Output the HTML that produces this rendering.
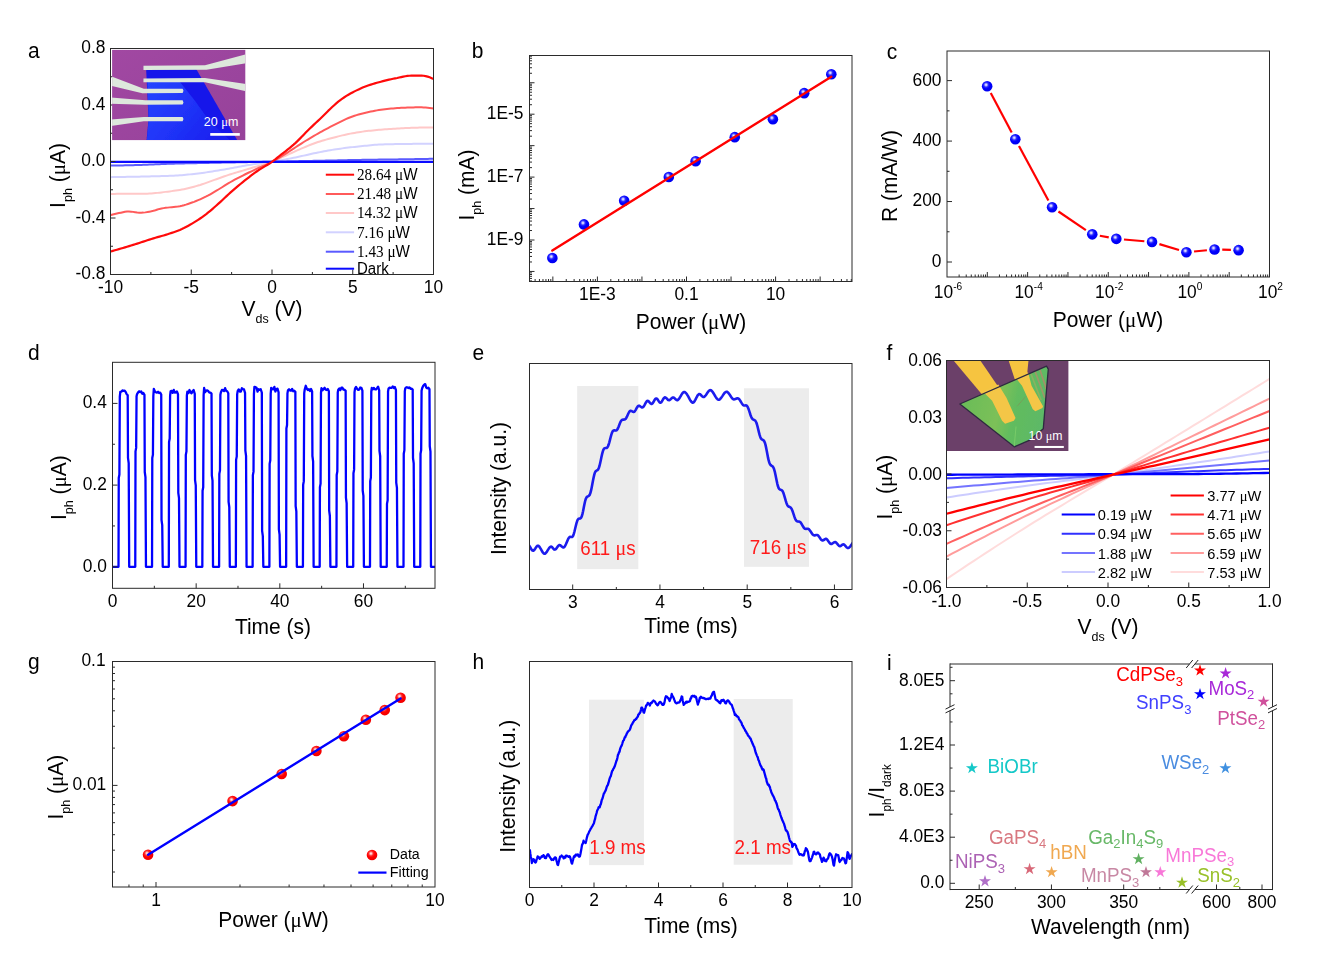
<!DOCTYPE html>
<html lang="en"><head><meta charset="utf-8"><title>Figure</title>
<style>
html,body{margin:0;padding:0;background:#fff;}
body{width:1339px;height:961px;overflow:hidden;}
svg{display:block;font-family:'Liberation Sans', Arial, sans-serif;}
</style></head><body>
<svg width="1339" height="961" viewBox="0 0 1339 961">
<defs>
<radialGradient id="gb" cx="0.4" cy="0.36" r="0.62" fx="0.4" fy="0.36"><stop offset="0" stop-color="#f0f0ff"/><stop offset="0.12" stop-color="#c8c8ff"/><stop offset="0.36" stop-color="#2a2aff"/><stop offset="0.6" stop-color="#0000ff"/><stop offset="1" stop-color="#0000f0"/></radialGradient>
<radialGradient id="gr" cx="0.4" cy="0.36" r="0.62" fx="0.4" fy="0.36"><stop offset="0" stop-color="#fff0f0"/><stop offset="0.12" stop-color="#ffc8c8"/><stop offset="0.36" stop-color="#ff2a2a"/><stop offset="0.6" stop-color="#ff0000"/><stop offset="1" stop-color="#f00000"/></radialGradient>
<filter id="blur1" x="-0.05" y="-0.05" width="1.1" height="1.1"><feGaussianBlur stdDeviation="0.45"/></filter>
<filter id="blur2" x="-0.05" y="-0.05" width="1.1" height="1.1"><feGaussianBlur stdDeviation="0.7"/></filter>
</defs>
<rect width="1339" height="961" fill="#fff"/>
<g style="will-change:transform">
<g id="pa">
<clipPath id="ca"><rect x="110.5" y="48.5" width="323" height="226"/></clipPath>
<text font-size="21" text-anchor="start" fill="#000" transform="translate(28 57.5) scale(1 1.04)" ><tspan>a</tspan></text>
<g clip-path="url(#ca)">
<path d="M110.78 177.14 L112.81 177.11 L114.84 177.07 L116.87 177.04 L118.9 177 L120.93 176.97 L122.96 176.93 L124.99 176.89 L127.03 176.86 L129.06 176.82 L131.09 176.78 L133.12 176.74 L135.15 176.71 L137.18 176.67 L139.21 176.63 L141.24 176.59 L143.27 176.55 L145.31 176.51 L147.34 176.47 L149.37 176.42 L151.4 176.37 L153.43 176.32 L155.46 176.27 L157.49 176.22 L159.52 176.16 L161.55 176.1 L163.59 176.04 L165.62 175.98 L167.65 175.9 L169.68 175.83 L171.71 175.74 L173.74 175.65 L175.77 175.56 L177.8 175.44 L179.84 175.3 L181.87 175.15 L183.9 174.97 L185.93 174.79 L187.96 174.58 L189.99 174.37 L192.02 174.15 L194.05 173.93 L196.08 173.69 L198.12 173.46 L200.15 173.22 L202.18 172.96 L204.21 172.68 L206.24 172.38 L208.27 172.08 L210.3 171.76 L212.33 171.43 L214.37 171.1 L216.4 170.76 L218.43 170.42 L220.46 170.08 L222.49 169.74 L224.52 169.39 L226.55 169.04 L228.58 168.67 L230.61 168.3 L232.65 167.92 L234.68 167.54 L236.71 167.16 L238.74 166.79 L240.77 166.42 L242.8 166.06 L244.83 165.7 L246.86 165.36 L248.89 165.02 L250.93 164.68 L252.96 164.34 L254.99 164.02 L257.02 163.7 L259.05 163.39 L261.08 163.1 L263.11 162.82 L265.14 162.57 L267.18 162.33 L269.21 162.08 L271.24 161.82 L273.27 161.52 L275.3 161.21 L277.33 160.87 L279.36 160.53 L281.39 160.17 L283.42 159.8 L285.46 159.42 L287.49 159.04 L289.52 158.64 L291.55 158.24 L293.58 157.84 L295.61 157.44 L297.64 157.01 L299.67 156.56 L301.71 156.1 L303.74 155.64 L305.77 155.17 L307.8 154.7 L309.83 154.24 L311.86 153.79 L313.89 153.35 L315.92 152.94 L317.95 152.54 L319.99 152.14 L322.02 151.74 L324.05 151.35 L326.08 150.97 L328.11 150.59 L330.14 150.23 L332.17 149.88 L334.2 149.55 L336.24 149.23 L338.27 148.93 L340.3 148.65 L342.33 148.37 L344.36 148.11 L346.39 147.85 L348.42 147.6 L350.45 147.36 L352.48 147.13 L354.52 146.91 L356.55 146.69 L358.58 146.48 L360.61 146.28 L362.64 146.06 L364.67 145.85 L366.7 145.64 L368.73 145.43 L370.76 145.22 L372.8 145.04 L374.83 144.87 L376.86 144.72 L378.89 144.59 L380.92 144.5 L382.95 144.43 L384.98 144.37 L387.01 144.31 L389.05 144.25 L391.08 144.2 L393.11 144.16 L395.14 144.11 L397.17 144.07 L399.2 144.04 L401.23 144.01 L403.26 143.98 L405.29 143.95 L407.33 143.93 L409.36 143.9 L411.39 143.88 L413.42 143.87 L415.45 143.85 L417.48 143.83 L419.51 143.81 L421.54 143.8 L423.58 143.78 L425.61 143.77 L427.64 143.76 L429.67 143.75 L431.7 143.75 L433.73 143.74" fill="none" stroke="#d2d2ff" stroke-width="2" stroke-linejoin="round" stroke-linecap="butt" />
<path d="M110.78 194 L112.81 193.95 L114.84 193.9 L116.87 193.85 L118.9 193.8 L120.93 193.76 L122.96 193.73 L124.99 193.71 L127.03 193.69 L129.06 193.69 L131.09 193.69 L133.12 193.69 L135.15 193.69 L137.18 193.69 L139.21 193.69 L141.24 193.69 L143.27 193.69 L145.31 193.69 L147.34 193.67 L149.37 193.59 L151.4 193.47 L153.43 193.3 L155.46 193.11 L157.49 192.88 L159.52 192.64 L161.55 192.39 L163.59 192.13 L165.62 191.88 L167.65 191.64 L169.68 191.39 L171.71 191.13 L173.74 190.85 L175.77 190.55 L177.8 190.23 L179.84 189.9 L181.87 189.54 L183.9 189.16 L185.93 188.74 L187.96 188.28 L189.99 187.79 L192.02 187.27 L194.05 186.72 L196.08 186.16 L198.12 185.58 L200.15 184.97 L202.18 184.31 L204.21 183.61 L206.24 182.88 L208.27 182.14 L210.3 181.39 L212.33 180.64 L214.37 179.92 L216.4 179.2 L218.43 178.48 L220.46 177.75 L222.49 177.02 L224.52 176.3 L226.55 175.6 L228.58 174.91 L230.61 174.25 L232.65 173.62 L234.68 173 L236.71 172.39 L238.74 171.79 L240.77 171.2 L242.8 170.61 L244.83 170 L246.86 169.4 L248.89 168.79 L250.93 168.18 L252.96 167.58 L254.99 166.97 L257.02 166.36 L259.05 165.75 L261.08 165.13 L263.11 164.52 L265.14 163.93 L267.18 163.33 L269.21 162.71 L271.24 162.04 L273.27 161.3 L275.3 160.47 L277.33 159.58 L279.36 158.64 L281.39 157.68 L283.42 156.71 L285.46 155.75 L287.49 154.83 L289.52 153.9 L291.55 152.97 L293.58 152.04 L295.61 151.11 L297.64 150.2 L299.67 149.31 L301.71 148.44 L303.74 147.57 L305.77 146.71 L307.8 145.86 L309.83 145.03 L311.86 144.23 L313.89 143.47 L315.92 142.75 L317.95 142.07 L319.99 141.43 L322.02 140.8 L324.05 140.2 L326.08 139.62 L328.11 139.05 L330.14 138.5 L332.17 137.97 L334.2 137.44 L336.24 136.92 L338.27 136.4 L340.3 135.9 L342.33 135.4 L344.36 134.93 L346.39 134.47 L348.42 134.03 L350.45 133.62 L352.48 133.24 L354.52 132.89 L356.55 132.55 L358.58 132.22 L360.61 131.92 L362.64 131.63 L364.67 131.36 L366.7 131.1 L368.73 130.86 L370.76 130.64 L372.8 130.42 L374.83 130.22 L376.86 130.02 L378.89 129.84 L380.92 129.66 L382.95 129.5 L384.98 129.34 L387.01 129.19 L389.05 129.04 L391.08 128.91 L393.11 128.77 L395.14 128.65 L397.17 128.53 L399.2 128.41 L401.23 128.29 L403.26 128.18 L405.29 128.08 L407.33 127.98 L409.36 127.91 L411.39 127.84 L413.42 127.79 L415.45 127.73 L417.48 127.68 L419.51 127.62 L421.54 127.58 L423.58 127.53 L425.61 127.5 L427.64 127.47 L429.67 127.44 L431.7 127.43 L433.73 127.43" fill="none" stroke="#ffc8c8" stroke-width="2" stroke-linejoin="round" stroke-linecap="butt" />
<path d="M110.78 215.08 L112.81 214.52 L114.84 214 L116.87 213.52 L118.9 213.08 L120.93 212.67 L122.96 212.24 L124.99 211.84 L127.03 211.55 L129.06 211.5 L131.09 211.63 L133.12 211.88 L135.15 212.18 L137.18 212.47 L139.21 212.67 L141.24 212.73 L143.27 212.62 L145.31 212.38 L147.34 212.05 L149.37 211.66 L151.4 211.26 L153.43 210.8 L155.46 210.18 L157.49 209.51 L159.52 208.9 L161.55 208.46 L163.59 208.13 L165.62 207.86 L167.65 207.62 L169.68 207.38 L171.71 207.14 L173.74 206.92 L175.77 206.72 L177.8 206.48 L179.84 206.19 L181.87 205.8 L183.9 205.28 L185.93 204.66 L187.96 203.99 L189.99 203.28 L192.02 202.56 L194.05 201.83 L196.08 201.04 L198.12 200.2 L200.15 199.33 L202.18 198.41 L204.21 197.46 L206.24 196.46 L208.27 195.39 L210.3 194.26 L212.33 193.09 L214.37 191.89 L216.4 190.69 L218.43 189.49 L220.46 188.25 L222.49 186.98 L224.52 185.7 L226.55 184.43 L228.58 183.19 L230.61 181.99 L232.65 180.84 L234.68 179.73 L236.71 178.65 L238.74 177.59 L240.77 176.55 L242.8 175.52 L244.83 174.51 L246.86 173.5 L248.89 172.52 L250.93 171.55 L252.96 170.59 L254.99 169.64 L257.02 168.69 L259.05 167.75 L261.08 166.84 L263.11 165.94 L265.14 165.05 L267.18 164.14 L269.21 163.19 L271.24 162.2 L273.27 161.15 L275.3 160.02 L277.33 158.84 L279.36 157.61 L281.39 156.36 L283.42 155.08 L285.46 153.8 L287.49 152.53 L289.52 151.23 L291.55 149.9 L293.58 148.56 L295.61 147.22 L297.64 145.88 L299.67 144.56 L301.71 143.28 L303.74 142.02 L305.77 140.77 L307.8 139.54 L309.83 138.31 L311.86 137.11 L313.89 135.92 L315.92 134.75 L317.95 133.6 L319.99 132.45 L322.02 131.32 L324.05 130.2 L326.08 129.09 L328.11 128.01 L330.14 126.94 L332.17 125.9 L334.2 124.88 L336.24 123.85 L338.27 122.83 L340.3 121.81 L342.33 120.81 L344.36 119.84 L346.39 118.91 L348.42 118.03 L350.45 117.22 L352.48 116.48 L354.52 115.8 L356.55 115.16 L358.58 114.56 L360.61 114 L362.64 113.46 L364.67 112.96 L366.7 112.48 L368.73 112.03 L370.76 111.58 L372.8 111.16 L374.83 110.75 L376.86 110.38 L378.89 110.04 L380.92 109.74 L382.95 109.47 L384.98 109.22 L387.01 109 L389.05 108.78 L391.08 108.59 L393.11 108.42 L395.14 108.26 L397.17 108.12 L399.2 107.99 L401.23 107.87 L403.26 107.76 L405.29 107.66 L407.33 107.57 L409.36 107.5 L411.39 107.45 L413.42 107.4 L415.45 107.36 L417.48 107.33 L419.51 107.32 L421.54 107.35 L423.58 107.43 L425.61 107.57 L427.64 107.74 L429.67 107.96 L431.7 108.21 L433.73 108.48" fill="none" stroke="#ff5a5a" stroke-width="2" stroke-linejoin="round" stroke-linecap="butt" />
<path d="M110.78 165.59 L112.81 165.56 L114.84 165.54 L116.87 165.5 L118.9 165.47 L120.93 165.43 L122.96 165.39 L124.99 165.35 L127.03 165.31 L129.06 165.26 L131.09 165.21 L133.12 165.16 L135.15 165.09 L137.18 165.03 L139.21 164.96 L141.24 164.88 L143.27 164.81 L145.31 164.73 L147.34 164.64 L149.37 164.56 L151.4 164.48 L153.43 164.39 L155.46 164.31 L157.49 164.23 L159.52 164.15 L161.55 164.07 L163.59 163.99 L165.62 163.92 L167.65 163.85 L169.68 163.79 L171.71 163.73 L173.74 163.67 L175.77 163.62 L177.8 163.57 L179.84 163.52 L181.87 163.47 L183.9 163.42 L185.93 163.37 L187.96 163.33 L189.99 163.28 L192.02 163.24 L194.05 163.2 L196.08 163.15 L198.12 163.11 L200.15 163.07 L202.18 163.03 L204.21 162.99 L206.24 162.95 L208.27 162.9 L210.3 162.86 L212.33 162.82 L214.37 162.78 L216.4 162.74 L218.43 162.7 L220.46 162.66 L222.49 162.62 L224.52 162.58 L226.55 162.54 L228.58 162.5 L230.61 162.46 L232.65 162.42 L234.68 162.38 L236.71 162.34 L238.74 162.3 L240.77 162.26 L242.8 162.23 L244.83 162.19 L246.86 162.15 L248.89 162.11 L250.93 162.07 L252.96 162.04 L254.99 162 L257.02 161.96 L259.05 161.92 L261.08 161.88 L263.11 161.84 L265.14 161.81 L267.18 161.77 L269.21 161.73 L271.24 161.69 L273.27 161.65 L275.3 161.61 L277.33 161.57 L279.36 161.53 L281.39 161.49 L283.42 161.45 L285.46 161.41 L287.49 161.37 L289.52 161.33 L291.55 161.28 L293.58 161.24 L295.61 161.2 L297.64 161.16 L299.67 161.12 L301.71 161.08 L303.74 161.04 L305.77 161 L307.8 160.96 L309.83 160.92 L311.86 160.88 L313.89 160.84 L315.92 160.79 L317.95 160.75 L319.99 160.71 L322.02 160.67 L324.05 160.63 L326.08 160.59 L328.11 160.55 L330.14 160.51 L332.17 160.46 L334.2 160.42 L336.24 160.38 L338.27 160.33 L340.3 160.29 L342.33 160.25 L344.36 160.2 L346.39 160.16 L348.42 160.12 L350.45 160.08 L352.48 160.04 L354.52 160 L356.55 159.96 L358.58 159.92 L360.61 159.88 L362.64 159.85 L364.67 159.81 L366.7 159.78 L368.73 159.75 L370.76 159.71 L372.8 159.69 L374.83 159.66 L376.86 159.63 L378.89 159.6 L380.92 159.58 L382.95 159.55 L384.98 159.53 L387.01 159.5 L389.05 159.48 L391.08 159.45 L393.11 159.43 L395.14 159.4 L397.17 159.38 L399.2 159.35 L401.23 159.33 L403.26 159.3 L405.29 159.27 L407.33 159.24 L409.36 159.21 L411.39 159.18 L413.42 159.15 L415.45 159.11 L417.48 159.07 L419.51 159.04 L421.54 159 L423.58 158.96 L425.61 158.92 L427.64 158.88 L429.67 158.84 L431.7 158.8 L433.73 158.75" fill="none" stroke="#5a5aff" stroke-width="2" stroke-linejoin="round" stroke-linecap="butt" />
<path d="M110.7 161.8 L433.7 161.8" fill="none" stroke="#0a0aff" stroke-width="2.2" stroke-linejoin="round" stroke-linecap="butt" />
<path d="M110.78 251.45 L112.81 250.88 L114.84 250.3 L116.87 249.72 L118.9 249.14 L120.93 248.54 L122.96 247.95 L124.99 247.35 L127.03 246.75 L129.06 246.15 L131.09 245.54 L133.12 244.92 L135.15 244.29 L137.18 243.65 L139.21 242.99 L141.24 242.31 L143.27 241.62 L145.31 240.94 L147.34 240.26 L149.37 239.59 L151.4 238.95 L153.43 238.34 L155.46 237.75 L157.49 237.17 L159.52 236.6 L161.55 236.03 L163.59 235.45 L165.62 234.85 L167.65 234.21 L169.68 233.56 L171.71 232.91 L173.74 232.23 L175.77 231.52 L177.8 230.76 L179.84 229.95 L181.87 229.05 L183.9 228.08 L185.93 227.03 L187.96 225.93 L189.99 224.79 L192.02 223.62 L194.05 222.41 L196.08 221.15 L198.12 219.83 L200.15 218.47 L202.18 217.05 L204.21 215.59 L206.24 214.07 L208.27 212.46 L210.3 210.78 L212.33 209.04 L214.37 207.28 L216.4 205.49 L218.43 203.7 L220.46 201.85 L222.49 199.96 L224.52 198.04 L226.55 196.13 L228.58 194.24 L230.61 192.39 L232.65 190.61 L234.68 188.86 L236.71 187.13 L238.74 185.43 L240.77 183.75 L242.8 182.1 L244.83 180.48 L246.86 178.87 L248.89 177.29 L250.93 175.72 L252.96 174.19 L254.99 172.69 L257.02 171.25 L259.05 169.87 L261.08 168.59 L263.11 167.37 L265.14 166.17 L267.18 164.97 L269.21 163.72 L271.24 162.39 L273.27 160.95 L275.3 159.35 L277.33 157.67 L279.36 156.01 L281.39 154.4 L283.42 152.82 L285.46 151.26 L287.49 149.68 L289.52 148.07 L291.55 146.41 L293.58 144.68 L295.61 142.84 L297.64 140.89 L299.67 138.85 L301.71 136.76 L303.74 134.66 L305.77 132.56 L307.8 130.51 L309.83 128.53 L311.86 126.59 L313.89 124.67 L315.92 122.77 L317.95 120.86 L319.99 118.94 L322.02 117 L324.05 115.01 L326.08 112.95 L328.11 110.9 L330.14 108.97 L332.17 107.07 L334.2 105.2 L336.24 103.39 L338.27 101.68 L340.3 100.09 L342.33 98.63 L344.36 97.24 L346.39 95.93 L348.42 94.69 L350.45 93.52 L352.48 92.42 L354.52 91.37 L356.55 90.36 L358.58 89.39 L360.61 88.47 L362.64 87.6 L364.67 86.77 L366.7 86 L368.73 85.29 L370.76 84.61 L372.8 83.98 L374.83 83.37 L376.86 82.79 L378.89 82.24 L380.92 81.7 L382.95 81.17 L384.98 80.66 L387.01 80.17 L389.05 79.69 L391.08 79.23 L393.11 78.79 L395.14 78.37 L397.17 77.97 L399.2 77.52 L401.23 77.06 L403.26 76.61 L405.29 76.22 L407.33 75.92 L409.36 75.74 L411.39 75.7 L413.42 75.7 L415.45 75.7 L417.48 75.7 L419.51 75.7 L421.54 75.7 L423.58 75.75 L425.61 76.07 L427.64 76.62 L429.67 77.33 L431.7 78.16 L433.73 79.05" fill="none" stroke="#ff0a0a" stroke-width="2.2" stroke-linejoin="round" stroke-linecap="butt" />
</g>
<rect x="110.5" y="48.5" width="323" height="226" fill="none" stroke="#2b2b2b" stroke-width="1" />
<line x1="191.25" y1="274.5" x2="191.25" y2="269.5" stroke="#2b2b2b" stroke-width="1" />
<line x1="272" y1="274.5" x2="272" y2="269.5" stroke="#2b2b2b" stroke-width="1" />
<line x1="352.75" y1="274.5" x2="352.75" y2="269.5" stroke="#2b2b2b" stroke-width="1" />
<line x1="150.88" y1="274.5" x2="150.88" y2="272" stroke="#2b2b2b" stroke-width="1" />
<line x1="231.62" y1="274.5" x2="231.62" y2="272" stroke="#2b2b2b" stroke-width="1" />
<line x1="312.38" y1="274.5" x2="312.38" y2="272" stroke="#2b2b2b" stroke-width="1" />
<line x1="393.12" y1="274.5" x2="393.12" y2="272" stroke="#2b2b2b" stroke-width="1" />
<line x1="110.5" y1="218" x2="115.5" y2="218" stroke="#2b2b2b" stroke-width="1" />
<line x1="110.5" y1="161.5" x2="115.5" y2="161.5" stroke="#2b2b2b" stroke-width="1" />
<line x1="110.5" y1="105" x2="115.5" y2="105" stroke="#2b2b2b" stroke-width="1" />
<line x1="110.5" y1="246.25" x2="113" y2="246.25" stroke="#2b2b2b" stroke-width="1" />
<line x1="110.5" y1="189.75" x2="113" y2="189.75" stroke="#2b2b2b" stroke-width="1" />
<line x1="110.5" y1="133.25" x2="113" y2="133.25" stroke="#2b2b2b" stroke-width="1" />
<line x1="110.5" y1="76.75" x2="113" y2="76.75" stroke="#2b2b2b" stroke-width="1" />
<g>
<clipPath id="cia"><rect x="112.1" y="49.9" width="133.2" height="90.2"/></clipPath>
<linearGradient id="gia" x1="0" y1="0" x2="1" y2="1"><stop offset="0" stop-color="#a148a2"/><stop offset="1" stop-color="#96429a"/></linearGradient>
<linearGradient id="gib" x1="0" y1="0" x2="1" y2="0.55"><stop offset="0" stop-color="#2545ff"/><stop offset="0.55" stop-color="#2034f8"/><stop offset="1" stop-color="#1a22f0"/></linearGradient>
<rect x="112.1" y="49.9" width="133.2" height="90.2" fill="url(#gia)" stroke="none" stroke-width="1" />
<g clip-path="url(#cia)" filter="url(#blur1)">
<polygon points="146.16,69.13 196.35,69.13 237.87,141.28 146.46,141.28 148.55,119.62" fill="#1616ea" />
<polygon points="147.36,81.53 179.62,81.53 194.56,100.2 209.49,121.11 231.15,141.28 146.76,141.28 148.7,119.62" fill="url(#gib)" />
<polygon points="143.47,65.85 205.01,65.25 246.09,54.35 246.09,63.16 206.5,69.73 143.47,70.03" fill="#dde8dc" />
<polygon points="143.47,78.54 205.01,78.1 246.09,84.07 246.09,91.24 205.01,82.13 143.47,82.28" fill="#dde8dc" />
<polygon points="110.91,76.3 143.77,88.7 182.61,88.7 183.5,90.79 182.61,92.88 142.28,93.18 110.91,85.71" fill="#dde8dc" />
<polygon points="110.91,97.51 145.27,100.35 182.61,100.35 183.5,102.44 182.61,104.53 145.27,104.68 110.91,103.64" fill="#dde8dc" />
<polygon points="110.91,119.62 143.77,116.93 182.61,116.93 183.5,119.02 182.61,121.26 143.77,121.26 110.91,125.89" fill="#dde8dc" />
</g>
<rect x="210.24" y="133.06" width="29.57" height="2.69" fill="#fff" stroke="none" stroke-width="1" />
<text font-size="12.5" text-anchor="start" fill="#fff" transform="translate(203.82 125.59) scale(1 1.04)" ><tspan>20 </tspan><tspan font-family="'Liberation Serif', 'Times New Roman', serif">μ</tspan><tspan>m</tspan></text>
</g>
<text font-size="18" text-anchor="middle" fill="#000" transform="translate(110.5 293.2) scale(0.965 1.04)" ><tspan>-10</tspan></text>
<text font-size="18" text-anchor="middle" fill="#000" transform="translate(191.25 293.2) scale(0.965 1.04)" ><tspan>-5</tspan></text>
<text font-size="18" text-anchor="middle" fill="#000" transform="translate(272 293.2) scale(0.965 1.04)" ><tspan>0</tspan></text>
<text font-size="18" text-anchor="middle" fill="#000" transform="translate(352.75 293.2) scale(0.965 1.04)" ><tspan>5</tspan></text>
<text font-size="18" text-anchor="middle" fill="#000" transform="translate(433.5 293.2) scale(0.965 1.04)" ><tspan>10</tspan></text>
<text font-size="18" text-anchor="end" fill="#000" transform="translate(105.5 53.4) scale(0.965 1.04)" ><tspan>0.8</tspan></text>
<text font-size="18" text-anchor="end" fill="#000" transform="translate(105.5 109.9) scale(0.965 1.04)" ><tspan>0.4</tspan></text>
<text font-size="18" text-anchor="end" fill="#000" transform="translate(105.5 166.4) scale(0.965 1.04)" ><tspan>0.0</tspan></text>
<text font-size="18" text-anchor="end" fill="#000" transform="translate(105.5 222.9) scale(0.965 1.04)" ><tspan>-0.4</tspan></text>
<text font-size="18" text-anchor="end" fill="#000" transform="translate(105.5 279.4) scale(0.965 1.04)" ><tspan>-0.8</tspan></text>
<text font-size="21" text-anchor="middle" fill="#000" transform="translate(65 175.5) rotate(-90) scale(1 1.04)" ><tspan>I</tspan><tspan font-size="12.5" dy="6.5">ph</tspan><tspan dy="-6.5"> (</tspan><tspan font-family="'Liberation Serif', 'Times New Roman', serif">μ</tspan><tspan>A)</tspan></text>
<text font-size="21" text-anchor="middle" fill="#000" transform="translate(272 316) scale(1 1.04)" ><tspan>V</tspan><tspan font-size="12.5" dy="6.5">ds</tspan><tspan dy="-6.5"> (V)</tspan></text>
<line x1="325.8" y1="174.7" x2="354.1" y2="174.7" stroke="#ff0a0a" stroke-width="2" />
<text font-size="15.2" text-anchor="start" fill="#000" transform="translate(357 179.9) scale(1 1.04)" ><tspan font-family="'Liberation Serif', 'Times New Roman', serif">28.64 μ</tspan><tspan>W</tspan></text>
<line x1="325.8" y1="194" x2="354.1" y2="194" stroke="#ff5a5a" stroke-width="2" />
<text font-size="15.2" text-anchor="start" fill="#000" transform="translate(357 199.2) scale(1 1.04)" ><tspan font-family="'Liberation Serif', 'Times New Roman', serif">21.48 μ</tspan><tspan>W</tspan></text>
<line x1="325.8" y1="213" x2="354.1" y2="213" stroke="#ffc8c8" stroke-width="2" />
<text font-size="15.2" text-anchor="start" fill="#000" transform="translate(357 218.2) scale(1 1.04)" ><tspan font-family="'Liberation Serif', 'Times New Roman', serif">14.32 μ</tspan><tspan>W</tspan></text>
<line x1="325.8" y1="232.3" x2="354.1" y2="232.3" stroke="#d2d2ff" stroke-width="2" />
<text font-size="15.2" text-anchor="start" fill="#000" transform="translate(357 237.5) scale(1 1.04)" ><tspan font-family="'Liberation Serif', 'Times New Roman', serif">7.16 μ</tspan><tspan>W</tspan></text>
<line x1="325.8" y1="251.7" x2="354.1" y2="251.7" stroke="#5a5aff" stroke-width="2" />
<text font-size="15.2" text-anchor="start" fill="#000" transform="translate(357 256.9) scale(1 1.04)" ><tspan font-family="'Liberation Serif', 'Times New Roman', serif">1.43 μ</tspan><tspan>W</tspan></text>
<line x1="325.8" y1="268.7" x2="354.1" y2="268.7" stroke="#0a0aff" stroke-width="2" />
<text font-size="15" text-anchor="start" fill="#000" transform="translate(357 273.9) scale(1 1.04)" ><tspan>Dark</tspan></text>
</g>
<g id="pb">
<text font-size="21" text-anchor="start" fill="#000" transform="translate(471.8 58) scale(1 1.04)" ><tspan>b</tspan></text>
<rect x="529.5" y="55.5" width="322.5" height="226" fill="none" stroke="#2b2b2b" stroke-width="1" />
<line x1="535.12" y1="281.5" x2="535.12" y2="279" stroke="#2b2b2b" stroke-width="1" />
<line x1="539.44" y1="281.5" x2="539.44" y2="279" stroke="#2b2b2b" stroke-width="1" />
<line x1="542.97" y1="281.5" x2="542.97" y2="279" stroke="#2b2b2b" stroke-width="1" />
<line x1="545.95" y1="281.5" x2="545.95" y2="279" stroke="#2b2b2b" stroke-width="1" />
<line x1="548.53" y1="281.5" x2="548.53" y2="279" stroke="#2b2b2b" stroke-width="1" />
<line x1="550.81" y1="281.5" x2="550.81" y2="279" stroke="#2b2b2b" stroke-width="1" />
<line x1="552.85" y1="281.5" x2="552.85" y2="276.5" stroke="#2b2b2b" stroke-width="1" />
<line x1="566.26" y1="281.5" x2="566.26" y2="279" stroke="#2b2b2b" stroke-width="1" />
<line x1="574.11" y1="281.5" x2="574.11" y2="279" stroke="#2b2b2b" stroke-width="1" />
<line x1="579.67" y1="281.5" x2="579.67" y2="279" stroke="#2b2b2b" stroke-width="1" />
<line x1="583.99" y1="281.5" x2="583.99" y2="279" stroke="#2b2b2b" stroke-width="1" />
<line x1="587.52" y1="281.5" x2="587.52" y2="279" stroke="#2b2b2b" stroke-width="1" />
<line x1="590.5" y1="281.5" x2="590.5" y2="279" stroke="#2b2b2b" stroke-width="1" />
<line x1="593.08" y1="281.5" x2="593.08" y2="279" stroke="#2b2b2b" stroke-width="1" />
<line x1="595.36" y1="281.5" x2="595.36" y2="279" stroke="#2b2b2b" stroke-width="1" />
<line x1="597.4" y1="281.5" x2="597.4" y2="276.5" stroke="#2b2b2b" stroke-width="1" />
<line x1="610.81" y1="281.5" x2="610.81" y2="279" stroke="#2b2b2b" stroke-width="1" />
<line x1="618.66" y1="281.5" x2="618.66" y2="279" stroke="#2b2b2b" stroke-width="1" />
<line x1="624.22" y1="281.5" x2="624.22" y2="279" stroke="#2b2b2b" stroke-width="1" />
<line x1="628.54" y1="281.5" x2="628.54" y2="279" stroke="#2b2b2b" stroke-width="1" />
<line x1="632.07" y1="281.5" x2="632.07" y2="279" stroke="#2b2b2b" stroke-width="1" />
<line x1="635.05" y1="281.5" x2="635.05" y2="279" stroke="#2b2b2b" stroke-width="1" />
<line x1="637.63" y1="281.5" x2="637.63" y2="279" stroke="#2b2b2b" stroke-width="1" />
<line x1="639.91" y1="281.5" x2="639.91" y2="279" stroke="#2b2b2b" stroke-width="1" />
<line x1="641.95" y1="281.5" x2="641.95" y2="276.5" stroke="#2b2b2b" stroke-width="1" />
<line x1="655.36" y1="281.5" x2="655.36" y2="279" stroke="#2b2b2b" stroke-width="1" />
<line x1="663.21" y1="281.5" x2="663.21" y2="279" stroke="#2b2b2b" stroke-width="1" />
<line x1="668.77" y1="281.5" x2="668.77" y2="279" stroke="#2b2b2b" stroke-width="1" />
<line x1="673.09" y1="281.5" x2="673.09" y2="279" stroke="#2b2b2b" stroke-width="1" />
<line x1="676.62" y1="281.5" x2="676.62" y2="279" stroke="#2b2b2b" stroke-width="1" />
<line x1="679.6" y1="281.5" x2="679.6" y2="279" stroke="#2b2b2b" stroke-width="1" />
<line x1="682.18" y1="281.5" x2="682.18" y2="279" stroke="#2b2b2b" stroke-width="1" />
<line x1="684.46" y1="281.5" x2="684.46" y2="279" stroke="#2b2b2b" stroke-width="1" />
<line x1="686.5" y1="281.5" x2="686.5" y2="276.5" stroke="#2b2b2b" stroke-width="1" />
<line x1="699.91" y1="281.5" x2="699.91" y2="279" stroke="#2b2b2b" stroke-width="1" />
<line x1="707.76" y1="281.5" x2="707.76" y2="279" stroke="#2b2b2b" stroke-width="1" />
<line x1="713.32" y1="281.5" x2="713.32" y2="279" stroke="#2b2b2b" stroke-width="1" />
<line x1="717.64" y1="281.5" x2="717.64" y2="279" stroke="#2b2b2b" stroke-width="1" />
<line x1="721.17" y1="281.5" x2="721.17" y2="279" stroke="#2b2b2b" stroke-width="1" />
<line x1="724.15" y1="281.5" x2="724.15" y2="279" stroke="#2b2b2b" stroke-width="1" />
<line x1="726.73" y1="281.5" x2="726.73" y2="279" stroke="#2b2b2b" stroke-width="1" />
<line x1="729.01" y1="281.5" x2="729.01" y2="279" stroke="#2b2b2b" stroke-width="1" />
<line x1="731.05" y1="281.5" x2="731.05" y2="276.5" stroke="#2b2b2b" stroke-width="1" />
<line x1="744.46" y1="281.5" x2="744.46" y2="279" stroke="#2b2b2b" stroke-width="1" />
<line x1="752.31" y1="281.5" x2="752.31" y2="279" stroke="#2b2b2b" stroke-width="1" />
<line x1="757.87" y1="281.5" x2="757.87" y2="279" stroke="#2b2b2b" stroke-width="1" />
<line x1="762.19" y1="281.5" x2="762.19" y2="279" stroke="#2b2b2b" stroke-width="1" />
<line x1="765.72" y1="281.5" x2="765.72" y2="279" stroke="#2b2b2b" stroke-width="1" />
<line x1="768.7" y1="281.5" x2="768.7" y2="279" stroke="#2b2b2b" stroke-width="1" />
<line x1="771.28" y1="281.5" x2="771.28" y2="279" stroke="#2b2b2b" stroke-width="1" />
<line x1="773.56" y1="281.5" x2="773.56" y2="279" stroke="#2b2b2b" stroke-width="1" />
<line x1="775.6" y1="281.5" x2="775.6" y2="276.5" stroke="#2b2b2b" stroke-width="1" />
<line x1="789.01" y1="281.5" x2="789.01" y2="279" stroke="#2b2b2b" stroke-width="1" />
<line x1="796.86" y1="281.5" x2="796.86" y2="279" stroke="#2b2b2b" stroke-width="1" />
<line x1="802.42" y1="281.5" x2="802.42" y2="279" stroke="#2b2b2b" stroke-width="1" />
<line x1="806.74" y1="281.5" x2="806.74" y2="279" stroke="#2b2b2b" stroke-width="1" />
<line x1="810.27" y1="281.5" x2="810.27" y2="279" stroke="#2b2b2b" stroke-width="1" />
<line x1="813.25" y1="281.5" x2="813.25" y2="279" stroke="#2b2b2b" stroke-width="1" />
<line x1="815.83" y1="281.5" x2="815.83" y2="279" stroke="#2b2b2b" stroke-width="1" />
<line x1="818.11" y1="281.5" x2="818.11" y2="279" stroke="#2b2b2b" stroke-width="1" />
<line x1="820.15" y1="281.5" x2="820.15" y2="276.5" stroke="#2b2b2b" stroke-width="1" />
<line x1="833.56" y1="281.5" x2="833.56" y2="279" stroke="#2b2b2b" stroke-width="1" />
<line x1="841.41" y1="281.5" x2="841.41" y2="279" stroke="#2b2b2b" stroke-width="1" />
<line x1="846.97" y1="281.5" x2="846.97" y2="279" stroke="#2b2b2b" stroke-width="1" />
<line x1="851.29" y1="281.5" x2="851.29" y2="279" stroke="#2b2b2b" stroke-width="1" />
<line x1="529.5" y1="280.92" x2="532" y2="280.92" stroke="#2b2b2b" stroke-width="1" />
<line x1="529.5" y1="278.43" x2="532" y2="278.43" stroke="#2b2b2b" stroke-width="1" />
<line x1="529.5" y1="276.32" x2="532" y2="276.32" stroke="#2b2b2b" stroke-width="1" />
<line x1="529.5" y1="274.5" x2="532" y2="274.5" stroke="#2b2b2b" stroke-width="1" />
<line x1="529.5" y1="272.89" x2="532" y2="272.89" stroke="#2b2b2b" stroke-width="1" />
<line x1="529.5" y1="271.45" x2="534.5" y2="271.45" stroke="#2b2b2b" stroke-width="1" />
<line x1="529.5" y1="261.98" x2="532" y2="261.98" stroke="#2b2b2b" stroke-width="1" />
<line x1="529.5" y1="256.44" x2="532" y2="256.44" stroke="#2b2b2b" stroke-width="1" />
<line x1="529.5" y1="252.52" x2="532" y2="252.52" stroke="#2b2b2b" stroke-width="1" />
<line x1="529.5" y1="249.47" x2="532" y2="249.47" stroke="#2b2b2b" stroke-width="1" />
<line x1="529.5" y1="246.98" x2="532" y2="246.98" stroke="#2b2b2b" stroke-width="1" />
<line x1="529.5" y1="244.87" x2="532" y2="244.87" stroke="#2b2b2b" stroke-width="1" />
<line x1="529.5" y1="243.05" x2="532" y2="243.05" stroke="#2b2b2b" stroke-width="1" />
<line x1="529.5" y1="241.44" x2="532" y2="241.44" stroke="#2b2b2b" stroke-width="1" />
<line x1="529.5" y1="240" x2="534.5" y2="240" stroke="#2b2b2b" stroke-width="1" />
<line x1="529.5" y1="230.53" x2="532" y2="230.53" stroke="#2b2b2b" stroke-width="1" />
<line x1="529.5" y1="224.99" x2="532" y2="224.99" stroke="#2b2b2b" stroke-width="1" />
<line x1="529.5" y1="221.07" x2="532" y2="221.07" stroke="#2b2b2b" stroke-width="1" />
<line x1="529.5" y1="218.02" x2="532" y2="218.02" stroke="#2b2b2b" stroke-width="1" />
<line x1="529.5" y1="215.53" x2="532" y2="215.53" stroke="#2b2b2b" stroke-width="1" />
<line x1="529.5" y1="213.42" x2="532" y2="213.42" stroke="#2b2b2b" stroke-width="1" />
<line x1="529.5" y1="211.6" x2="532" y2="211.6" stroke="#2b2b2b" stroke-width="1" />
<line x1="529.5" y1="209.99" x2="532" y2="209.99" stroke="#2b2b2b" stroke-width="1" />
<line x1="529.5" y1="208.55" x2="534.5" y2="208.55" stroke="#2b2b2b" stroke-width="1" />
<line x1="529.5" y1="199.08" x2="532" y2="199.08" stroke="#2b2b2b" stroke-width="1" />
<line x1="529.5" y1="193.54" x2="532" y2="193.54" stroke="#2b2b2b" stroke-width="1" />
<line x1="529.5" y1="189.62" x2="532" y2="189.62" stroke="#2b2b2b" stroke-width="1" />
<line x1="529.5" y1="186.57" x2="532" y2="186.57" stroke="#2b2b2b" stroke-width="1" />
<line x1="529.5" y1="184.08" x2="532" y2="184.08" stroke="#2b2b2b" stroke-width="1" />
<line x1="529.5" y1="181.97" x2="532" y2="181.97" stroke="#2b2b2b" stroke-width="1" />
<line x1="529.5" y1="180.15" x2="532" y2="180.15" stroke="#2b2b2b" stroke-width="1" />
<line x1="529.5" y1="178.54" x2="532" y2="178.54" stroke="#2b2b2b" stroke-width="1" />
<line x1="529.5" y1="177.1" x2="534.5" y2="177.1" stroke="#2b2b2b" stroke-width="1" />
<line x1="529.5" y1="167.63" x2="532" y2="167.63" stroke="#2b2b2b" stroke-width="1" />
<line x1="529.5" y1="162.09" x2="532" y2="162.09" stroke="#2b2b2b" stroke-width="1" />
<line x1="529.5" y1="158.17" x2="532" y2="158.17" stroke="#2b2b2b" stroke-width="1" />
<line x1="529.5" y1="155.12" x2="532" y2="155.12" stroke="#2b2b2b" stroke-width="1" />
<line x1="529.5" y1="152.63" x2="532" y2="152.63" stroke="#2b2b2b" stroke-width="1" />
<line x1="529.5" y1="150.52" x2="532" y2="150.52" stroke="#2b2b2b" stroke-width="1" />
<line x1="529.5" y1="148.7" x2="532" y2="148.7" stroke="#2b2b2b" stroke-width="1" />
<line x1="529.5" y1="147.09" x2="532" y2="147.09" stroke="#2b2b2b" stroke-width="1" />
<line x1="529.5" y1="145.65" x2="534.5" y2="145.65" stroke="#2b2b2b" stroke-width="1" />
<line x1="529.5" y1="136.18" x2="532" y2="136.18" stroke="#2b2b2b" stroke-width="1" />
<line x1="529.5" y1="130.64" x2="532" y2="130.64" stroke="#2b2b2b" stroke-width="1" />
<line x1="529.5" y1="126.72" x2="532" y2="126.72" stroke="#2b2b2b" stroke-width="1" />
<line x1="529.5" y1="123.67" x2="532" y2="123.67" stroke="#2b2b2b" stroke-width="1" />
<line x1="529.5" y1="121.18" x2="532" y2="121.18" stroke="#2b2b2b" stroke-width="1" />
<line x1="529.5" y1="119.07" x2="532" y2="119.07" stroke="#2b2b2b" stroke-width="1" />
<line x1="529.5" y1="117.25" x2="532" y2="117.25" stroke="#2b2b2b" stroke-width="1" />
<line x1="529.5" y1="115.64" x2="532" y2="115.64" stroke="#2b2b2b" stroke-width="1" />
<line x1="529.5" y1="114.2" x2="534.5" y2="114.2" stroke="#2b2b2b" stroke-width="1" />
<line x1="529.5" y1="104.73" x2="532" y2="104.73" stroke="#2b2b2b" stroke-width="1" />
<line x1="529.5" y1="99.19" x2="532" y2="99.19" stroke="#2b2b2b" stroke-width="1" />
<line x1="529.5" y1="95.27" x2="532" y2="95.27" stroke="#2b2b2b" stroke-width="1" />
<line x1="529.5" y1="92.22" x2="532" y2="92.22" stroke="#2b2b2b" stroke-width="1" />
<line x1="529.5" y1="89.73" x2="532" y2="89.73" stroke="#2b2b2b" stroke-width="1" />
<line x1="529.5" y1="87.62" x2="532" y2="87.62" stroke="#2b2b2b" stroke-width="1" />
<line x1="529.5" y1="85.8" x2="532" y2="85.8" stroke="#2b2b2b" stroke-width="1" />
<line x1="529.5" y1="84.19" x2="532" y2="84.19" stroke="#2b2b2b" stroke-width="1" />
<line x1="529.5" y1="82.75" x2="534.5" y2="82.75" stroke="#2b2b2b" stroke-width="1" />
<line x1="529.5" y1="73.28" x2="532" y2="73.28" stroke="#2b2b2b" stroke-width="1" />
<line x1="529.5" y1="67.74" x2="532" y2="67.74" stroke="#2b2b2b" stroke-width="1" />
<line x1="529.5" y1="63.82" x2="532" y2="63.82" stroke="#2b2b2b" stroke-width="1" />
<line x1="529.5" y1="60.77" x2="532" y2="60.77" stroke="#2b2b2b" stroke-width="1" />
<line x1="529.5" y1="58.28" x2="532" y2="58.28" stroke="#2b2b2b" stroke-width="1" />
<line x1="529.5" y1="56.17" x2="532" y2="56.17" stroke="#2b2b2b" stroke-width="1" />
<text font-size="18" text-anchor="middle" fill="#000" transform="translate(597.4 300) scale(0.965 1.04)" ><tspan>1E-3</tspan></text>
<text font-size="18" text-anchor="middle" fill="#000" transform="translate(686.5 300) scale(0.965 1.04)" ><tspan>0.1</tspan></text>
<text font-size="18" text-anchor="middle" fill="#000" transform="translate(775.6 300) scale(0.965 1.04)" ><tspan>10</tspan></text>
<text font-size="18" text-anchor="end" fill="#000" transform="translate(523.5 119.1) scale(0.965 1.04)" ><tspan>1E-5</tspan></text>
<text font-size="18" text-anchor="end" fill="#000" transform="translate(523.5 182) scale(0.965 1.04)" ><tspan>1E-7</tspan></text>
<text font-size="18" text-anchor="end" fill="#000" transform="translate(523.5 244.9) scale(0.965 1.04)" ><tspan>1E-9</tspan></text>
<circle cx="552.37" cy="258.06" r="5.3" fill="url(#gb)"/>
<circle cx="583.97" cy="224.4" r="5.3" fill="url(#gb)"/>
<circle cx="624.17" cy="200.69" r="5.3" fill="url(#gb)"/>
<circle cx="668.83" cy="176.99" r="5.3" fill="url(#gb)"/>
<circle cx="695.62" cy="161.19" r="5.3" fill="url(#gb)"/>
<circle cx="734.78" cy="137.14" r="5.3" fill="url(#gb)"/>
<circle cx="772.91" cy="119.28" r="5.3" fill="url(#gb)"/>
<circle cx="804.17" cy="93.17" r="5.3" fill="url(#gb)"/>
<circle cx="831.31" cy="74.28" r="5.3" fill="url(#gb)"/>
<line x1="552.3" y1="250.5" x2="831.3" y2="76.7" stroke="#ff0000" stroke-width="2.4" stroke-linecap="round"/>
<text font-size="21" text-anchor="middle" fill="#000" transform="translate(474.2 185) rotate(-90) scale(1 1.04)" ><tspan>I</tspan><tspan font-size="12.5" dy="6.5">ph</tspan><tspan dy="-6.5"> (mA)</tspan></text>
<text font-size="21" text-anchor="middle" fill="#000" transform="translate(691 328.5) scale(1 1.04)" ><tspan>Power (</tspan><tspan font-family="'Liberation Serif', 'Times New Roman', serif">μ</tspan><tspan>W)</tspan></text>
</g>
<g id="pc">
<text font-size="21" text-anchor="start" fill="#000" transform="translate(886.7 58.6) scale(1 1.04)" ><tspan>c</tspan></text>
<rect x="947" y="51" width="322.5" height="226" fill="none" stroke="#2b2b2b" stroke-width="1" />
<line x1="959.14" y1="277" x2="959.14" y2="274.5" stroke="#2b2b2b" stroke-width="1" />
<line x1="966.23" y1="277" x2="966.23" y2="274.5" stroke="#2b2b2b" stroke-width="1" />
<line x1="971.27" y1="277" x2="971.27" y2="274.5" stroke="#2b2b2b" stroke-width="1" />
<line x1="975.18" y1="277" x2="975.18" y2="274.5" stroke="#2b2b2b" stroke-width="1" />
<line x1="978.37" y1="277" x2="978.37" y2="274.5" stroke="#2b2b2b" stroke-width="1" />
<line x1="981.07" y1="277" x2="981.07" y2="274.5" stroke="#2b2b2b" stroke-width="1" />
<line x1="983.41" y1="277" x2="983.41" y2="274.5" stroke="#2b2b2b" stroke-width="1" />
<line x1="985.47" y1="277" x2="985.47" y2="274.5" stroke="#2b2b2b" stroke-width="1" />
<line x1="987.31" y1="277" x2="987.31" y2="272" stroke="#2b2b2b" stroke-width="1" />
<line x1="999.45" y1="277" x2="999.45" y2="274.5" stroke="#2b2b2b" stroke-width="1" />
<line x1="1006.55" y1="277" x2="1006.55" y2="274.5" stroke="#2b2b2b" stroke-width="1" />
<line x1="1011.58" y1="277" x2="1011.58" y2="274.5" stroke="#2b2b2b" stroke-width="1" />
<line x1="1015.49" y1="277" x2="1015.49" y2="274.5" stroke="#2b2b2b" stroke-width="1" />
<line x1="1018.68" y1="277" x2="1018.68" y2="274.5" stroke="#2b2b2b" stroke-width="1" />
<line x1="1021.38" y1="277" x2="1021.38" y2="274.5" stroke="#2b2b2b" stroke-width="1" />
<line x1="1023.72" y1="277" x2="1023.72" y2="274.5" stroke="#2b2b2b" stroke-width="1" />
<line x1="1025.78" y1="277" x2="1025.78" y2="274.5" stroke="#2b2b2b" stroke-width="1" />
<line x1="1027.62" y1="277" x2="1027.62" y2="272" stroke="#2b2b2b" stroke-width="1" />
<line x1="1039.76" y1="277" x2="1039.76" y2="274.5" stroke="#2b2b2b" stroke-width="1" />
<line x1="1046.86" y1="277" x2="1046.86" y2="274.5" stroke="#2b2b2b" stroke-width="1" />
<line x1="1051.9" y1="277" x2="1051.9" y2="274.5" stroke="#2b2b2b" stroke-width="1" />
<line x1="1055.8" y1="277" x2="1055.8" y2="274.5" stroke="#2b2b2b" stroke-width="1" />
<line x1="1058.99" y1="277" x2="1058.99" y2="274.5" stroke="#2b2b2b" stroke-width="1" />
<line x1="1061.69" y1="277" x2="1061.69" y2="274.5" stroke="#2b2b2b" stroke-width="1" />
<line x1="1064.03" y1="277" x2="1064.03" y2="274.5" stroke="#2b2b2b" stroke-width="1" />
<line x1="1066.09" y1="277" x2="1066.09" y2="274.5" stroke="#2b2b2b" stroke-width="1" />
<line x1="1067.94" y1="277" x2="1067.94" y2="272" stroke="#2b2b2b" stroke-width="1" />
<line x1="1080.07" y1="277" x2="1080.07" y2="274.5" stroke="#2b2b2b" stroke-width="1" />
<line x1="1087.17" y1="277" x2="1087.17" y2="274.5" stroke="#2b2b2b" stroke-width="1" />
<line x1="1092.21" y1="277" x2="1092.21" y2="274.5" stroke="#2b2b2b" stroke-width="1" />
<line x1="1096.11" y1="277" x2="1096.11" y2="274.5" stroke="#2b2b2b" stroke-width="1" />
<line x1="1099.31" y1="277" x2="1099.31" y2="274.5" stroke="#2b2b2b" stroke-width="1" />
<line x1="1102.01" y1="277" x2="1102.01" y2="274.5" stroke="#2b2b2b" stroke-width="1" />
<line x1="1104.34" y1="277" x2="1104.34" y2="274.5" stroke="#2b2b2b" stroke-width="1" />
<line x1="1106.41" y1="277" x2="1106.41" y2="274.5" stroke="#2b2b2b" stroke-width="1" />
<line x1="1108.25" y1="277" x2="1108.25" y2="272" stroke="#2b2b2b" stroke-width="1" />
<line x1="1120.39" y1="277" x2="1120.39" y2="274.5" stroke="#2b2b2b" stroke-width="1" />
<line x1="1127.48" y1="277" x2="1127.48" y2="274.5" stroke="#2b2b2b" stroke-width="1" />
<line x1="1132.52" y1="277" x2="1132.52" y2="274.5" stroke="#2b2b2b" stroke-width="1" />
<line x1="1136.43" y1="277" x2="1136.43" y2="274.5" stroke="#2b2b2b" stroke-width="1" />
<line x1="1139.62" y1="277" x2="1139.62" y2="274.5" stroke="#2b2b2b" stroke-width="1" />
<line x1="1142.32" y1="277" x2="1142.32" y2="274.5" stroke="#2b2b2b" stroke-width="1" />
<line x1="1144.66" y1="277" x2="1144.66" y2="274.5" stroke="#2b2b2b" stroke-width="1" />
<line x1="1146.72" y1="277" x2="1146.72" y2="274.5" stroke="#2b2b2b" stroke-width="1" />
<line x1="1148.56" y1="277" x2="1148.56" y2="272" stroke="#2b2b2b" stroke-width="1" />
<line x1="1160.7" y1="277" x2="1160.7" y2="274.5" stroke="#2b2b2b" stroke-width="1" />
<line x1="1167.8" y1="277" x2="1167.8" y2="274.5" stroke="#2b2b2b" stroke-width="1" />
<line x1="1172.83" y1="277" x2="1172.83" y2="274.5" stroke="#2b2b2b" stroke-width="1" />
<line x1="1176.74" y1="277" x2="1176.74" y2="274.5" stroke="#2b2b2b" stroke-width="1" />
<line x1="1179.93" y1="277" x2="1179.93" y2="274.5" stroke="#2b2b2b" stroke-width="1" />
<line x1="1182.63" y1="277" x2="1182.63" y2="274.5" stroke="#2b2b2b" stroke-width="1" />
<line x1="1184.97" y1="277" x2="1184.97" y2="274.5" stroke="#2b2b2b" stroke-width="1" />
<line x1="1187.03" y1="277" x2="1187.03" y2="274.5" stroke="#2b2b2b" stroke-width="1" />
<line x1="1188.88" y1="277" x2="1188.88" y2="272" stroke="#2b2b2b" stroke-width="1" />
<line x1="1201.01" y1="277" x2="1201.01" y2="274.5" stroke="#2b2b2b" stroke-width="1" />
<line x1="1208.11" y1="277" x2="1208.11" y2="274.5" stroke="#2b2b2b" stroke-width="1" />
<line x1="1213.15" y1="277" x2="1213.15" y2="274.5" stroke="#2b2b2b" stroke-width="1" />
<line x1="1217.05" y1="277" x2="1217.05" y2="274.5" stroke="#2b2b2b" stroke-width="1" />
<line x1="1220.24" y1="277" x2="1220.24" y2="274.5" stroke="#2b2b2b" stroke-width="1" />
<line x1="1222.94" y1="277" x2="1222.94" y2="274.5" stroke="#2b2b2b" stroke-width="1" />
<line x1="1225.28" y1="277" x2="1225.28" y2="274.5" stroke="#2b2b2b" stroke-width="1" />
<line x1="1227.34" y1="277" x2="1227.34" y2="274.5" stroke="#2b2b2b" stroke-width="1" />
<line x1="1229.19" y1="277" x2="1229.19" y2="272" stroke="#2b2b2b" stroke-width="1" />
<line x1="1241.32" y1="277" x2="1241.32" y2="274.5" stroke="#2b2b2b" stroke-width="1" />
<line x1="1248.42" y1="277" x2="1248.42" y2="274.5" stroke="#2b2b2b" stroke-width="1" />
<line x1="1253.46" y1="277" x2="1253.46" y2="274.5" stroke="#2b2b2b" stroke-width="1" />
<line x1="1257.36" y1="277" x2="1257.36" y2="274.5" stroke="#2b2b2b" stroke-width="1" />
<line x1="1260.56" y1="277" x2="1260.56" y2="274.5" stroke="#2b2b2b" stroke-width="1" />
<line x1="1263.26" y1="277" x2="1263.26" y2="274.5" stroke="#2b2b2b" stroke-width="1" />
<line x1="1265.59" y1="277" x2="1265.59" y2="274.5" stroke="#2b2b2b" stroke-width="1" />
<line x1="1267.66" y1="277" x2="1267.66" y2="274.5" stroke="#2b2b2b" stroke-width="1" />
<line x1="947" y1="262" x2="952" y2="262" stroke="#2b2b2b" stroke-width="1" />
<line x1="947" y1="201.54" x2="952" y2="201.54" stroke="#2b2b2b" stroke-width="1" />
<line x1="947" y1="141.08" x2="952" y2="141.08" stroke="#2b2b2b" stroke-width="1" />
<line x1="947" y1="80.62" x2="952" y2="80.62" stroke="#2b2b2b" stroke-width="1" />
<line x1="947" y1="231.77" x2="949.5" y2="231.77" stroke="#2b2b2b" stroke-width="1" />
<line x1="947" y1="171.31" x2="949.5" y2="171.31" stroke="#2b2b2b" stroke-width="1" />
<line x1="947" y1="110.85" x2="949.5" y2="110.85" stroke="#2b2b2b" stroke-width="1" />
<text font-size="18" text-anchor="end" fill="#000" transform="translate(941.5 266.9) scale(0.965 1.04)" ><tspan>0</tspan></text>
<text font-size="18" text-anchor="end" fill="#000" transform="translate(941.5 206.44) scale(0.965 1.04)" ><tspan>200</tspan></text>
<text font-size="18" text-anchor="end" fill="#000" transform="translate(941.5 145.98) scale(0.965 1.04)" ><tspan>400</tspan></text>
<text font-size="18" text-anchor="end" fill="#000" transform="translate(941.5 85.52) scale(0.965 1.04)" ><tspan>600</tspan></text>
<text font-size="18" text-anchor="middle" fill="#000" transform="translate(948 297.8) scale(0.965 1.04)" ><tspan>10</tspan><tspan font-size="10.5" dy="-7.8">-6</tspan></text>
<text font-size="18" text-anchor="middle" fill="#000" transform="translate(1028.62 297.8) scale(0.965 1.04)" ><tspan>10</tspan><tspan font-size="10.5" dy="-7.8">-4</tspan></text>
<text font-size="18" text-anchor="middle" fill="#000" transform="translate(1109.25 297.8) scale(0.965 1.04)" ><tspan>10</tspan><tspan font-size="10.5" dy="-7.8">-2</tspan></text>
<text font-size="18" text-anchor="middle" fill="#000" transform="translate(1189.88 297.8) scale(0.965 1.04)" ><tspan>10</tspan><tspan font-size="10.5" dy="-7.8">0</tspan></text>
<text font-size="18" text-anchor="middle" fill="#000" transform="translate(1270.5 297.8) scale(0.965 1.04)" ><tspan>10</tspan><tspan font-size="10.5" dy="-7.8">2</tspan></text>
<line x1="990.76" y1="93.1" x2="1011.69" y2="132.41" stroke="#ff0000" stroke-width="2.2" />
<line x1="1018.97" y1="145.98" x2="1048.41" y2="200.45" stroke="#ff0000" stroke-width="2.2" />
<line x1="1058.45" y1="211.53" x2="1085.88" y2="230.05" stroke="#ff0000" stroke-width="2.2" />
<line x1="1099.83" y1="235.77" x2="1108.74" y2="237.42" stroke="#ff0000" stroke-width="2.2" />
<line x1="1123.98" y1="239.49" x2="1144.36" y2="241.25" stroke="#ff0000" stroke-width="2.2" />
<line x1="1159.41" y1="244.13" x2="1179.01" y2="250.01" stroke="#ff0000" stroke-width="2.2" />
<line x1="1194.05" y1="251.47" x2="1206.89" y2="250.22" stroke="#ff0000" stroke-width="2.2" />
<line x1="1222.25" y1="249.69" x2="1230.9" y2="249.94" stroke="#ff0000" stroke-width="2.2" />
<circle cx="987.14" cy="86.3" r="5.3" fill="url(#gb)"/>
<circle cx="1015.31" cy="139.2" r="5.3" fill="url(#gb)"/>
<circle cx="1052.07" cy="207.22" r="5.3" fill="url(#gb)"/>
<circle cx="1092.26" cy="234.36" r="5.3" fill="url(#gb)"/>
<circle cx="1116.31" cy="238.83" r="5.3" fill="url(#gb)"/>
<circle cx="1152.03" cy="241.92" r="5.3" fill="url(#gb)"/>
<circle cx="1186.39" cy="252.22" r="5.3" fill="url(#gb)"/>
<circle cx="1214.56" cy="249.47" r="5.3" fill="url(#gb)"/>
<circle cx="1238.6" cy="250.16" r="5.3" fill="url(#gb)"/>
<text font-size="21" text-anchor="middle" fill="#000" transform="translate(897.3 176) rotate(-90) scale(1 1.04)" ><tspan>R (mA/W)</tspan></text>
<text font-size="21" text-anchor="middle" fill="#000" transform="translate(1108 327) scale(1 1.04)" ><tspan>Power (</tspan><tspan font-family="'Liberation Serif', 'Times New Roman', serif">μ</tspan><tspan>W)</tspan></text>
</g>
<g id="pd">
<clipPath id="cd"><rect x="112.5" y="362.3" width="322.5" height="226"/></clipPath>
<text font-size="21" text-anchor="start" fill="#000" transform="translate(28 360) scale(1 1.04)" ><tspan>d</tspan></text>
<g clip-path="url(#cd)">
<path d="M112.5 566.8 L118.5 566.8 L118.75 477.93 L119.4 474.46 L119.8 396.7 L120.3 391.97 L121.35 391.72 L122.4 390.43 L123.45 390.87 L124.5 390.64 L125.55 391.78 L126.6 394.06 L127.7 395.2 L128 457.91 L128.7 463.12 L129.2 566.8 L135.26 566.8 L135.51 451.36 L136.16 447.88 L136.56 396.37 L137.06 394.11 L138.12 392.4 L139.17 391.31 L140.22 392.07 L141.27 391.54 L142.32 393.7 L143.37 392.97 L144.46 394.87 L144.76 471.98 L145.46 477.19 L145.96 566.8 L152.03 566.8 L152.28 458.08 L152.93 454.6 L153.33 396.04 L153.83 388.83 L154.88 391.48 L155.93 392.17 L156.98 392.66 L158.03 391.77 L159.08 393.01 L160.13 392.62 L161.23 394.54 L161.53 519.98 L162.23 525.21 L162.73 566.8 L168.8 566.8 L169.05 442.02 L169.7 438.52 L170.1 395.71 L170.6 391.4 L171.65 390.88 L172.7 392.86 L173.75 389.83 L174.8 392.58 L175.85 392.29 L176.9 391.48 L178 394.21 L178.3 492.93 L179 498.17 L179.5 566.8 L185.56 566.8 L185.81 454.86 L186.46 451.36 L186.86 395.38 L187.36 391.59 L188.41 393.11 L189.46 390.04 L190.51 392.35 L191.56 393.26 L192.61 391.06 L193.66 390.05 L194.76 393.88 L195.06 480.03 L195.76 485.28 L196.26 566.8 L202.32 566.8 L202.57 490.74 L203.22 487.23 L203.62 395.05 L204.12 388.01 L205.18 392.23 L206.23 390.62 L207.28 390.35 L208.33 391.24 L209.38 392.59 L210.43 392.53 L211.52 393.55 L211.82 475.39 L212.52 480.65 L213.02 566.8 L219.09 566.8 L219.34 473.85 L219.99 470.34 L220.39 394.72 L220.89 392.26 L221.94 389.99 L222.99 390.24 L224.04 391.02 L225.09 388.13 L226.14 390.82 L227.19 391.28 L228.29 393.22 L228.59 501.8 L229.29 507.06 L229.79 566.8 L235.86 566.8 L236.11 459.89 L236.76 456.37 L237.16 394.39 L237.66 391.1 L238.71 389.36 L239.76 391.61 L240.81 391.66 L241.86 388.23 L242.91 388.96 L243.96 389.4 L245.06 392.89 L245.36 450.57 L246.06 455.85 L246.56 566.8 L252.62 566.8 L252.87 475.15 L253.52 471.63 L253.92 394.06 L254.42 386.82 L255.47 387.13 L256.52 387.79 L257.57 391.57 L258.62 389.32 L259.67 389.94 L260.72 389.24 L261.82 392.56 L262.12 530.88 L262.82 536.17 L263.32 566.8 L269.38 566.8 L269.63 463.86 L270.28 460.33 L270.69 393.73 L271.19 387.83 L272.24 388.85 L273.29 389.35 L274.34 386.83 L275.39 391.48 L276.44 388.98 L277.49 388.61 L278.58 392.23 L278.88 529.4 L279.58 534.7 L280.08 566.8 L286.15 566.8 L286.4 428.52 L287.05 424.99 L287.45 393.4 L287.95 390.36 L289 389.34 L290.05 390.59 L291.1 390.62 L292.15 388.89 L293.2 391.25 L294.25 390.7 L295.35 391.9 L295.65 506.11 L296.35 511.42 L296.85 566.8 L302.92 566.8 L303.17 484.68 L303.81 481.13 L304.22 393.07 L304.72 389.47 L305.77 385.76 L306.82 388.74 L307.87 390.02 L308.92 389.26 L309.97 390.93 L311.02 389 L312.12 391.57 L312.42 455.99 L313.12 461.31 L313.62 566.8 L319.68 566.8 L319.93 487.19 L320.58 483.64 L320.98 392.74 L321.48 388.17 L322.53 390.33 L323.58 389.03 L324.63 387.82 L325.68 389.59 L326.73 389.97 L327.78 389.02 L328.88 391.24 L329.18 510.7 L329.88 516.02 L330.38 566.8 L336.44 566.8 L336.69 474.96 L337.34 471.4 L337.75 392.41 L338.25 389.69 L339.3 388.44 L340.35 390.15 L341.4 387.74 L342.45 387.68 L343.5 389.71 L344.55 389.77 L345.64 390.91 L345.94 497.69 L346.64 503.03 L347.14 566.8 L353.21 566.8 L353.46 473.2 L354.11 469.63 L354.51 392.08 L355.01 388.58 L356.06 386.92 L357.11 388.89 L358.16 389.77 L359.21 389.58 L360.26 387.53 L361.31 387.79 L362.41 390.58 L362.71 490.62 L363.41 495.96 L363.91 566.8 L369.98 566.8 L370.23 481.15 L370.88 477.58 L371.28 391.75 L371.78 387.85 L372.83 389.37 L373.88 387.97 L374.93 389.35 L375.98 389.39 L377.03 388.2 L378.08 386.61 L379.18 390.25 L379.48 450.87 L380.18 456.23 L380.68 566.8 L386.74 566.8 L386.99 503.84 L387.64 500.26 L388.04 391.42 L388.54 388.7 L389.59 387.69 L390.64 387.95 L391.69 387.83 L392.74 386.45 L393.79 387.96 L394.84 387.08 L395.94 389.92 L396.24 482.59 L396.94 487.96 L397.44 566.8 L403.5 566.8 L403.75 453.74 L404.4 450.16 L404.81 391.09 L405.31 388.25 L406.36 387.26 L407.41 387.46 L408.46 388.04 L409.51 387.54 L410.56 388.81 L411.61 388.61 L412.7 389.59 L413 457.98 L413.7 463.36 L414.2 566.8 L420.27 566.8 L420.52 453.73 L421.17 450.14 L421.57 390.76 L422.07 388.48 L423.12 385.99 L424.17 384.73 L425.22 384.11 L426.27 387.64 L427.32 388.34 L428.37 387.78 L429.47 389.26 L429.77 446.26 L430.47 451.65 L430.97 566.8 L435 566.8" fill="none" stroke="#0000ff" stroke-width="2.3" stroke-linejoin="round" stroke-linecap="butt" />
</g>
<rect x="112.5" y="362.3" width="322.5" height="226" fill="none" stroke="#2b2b2b" stroke-width="1" />
<line x1="196.16" y1="588.3" x2="196.16" y2="583.3" stroke="#2b2b2b" stroke-width="1" />
<line x1="279.82" y1="588.3" x2="279.82" y2="583.3" stroke="#2b2b2b" stroke-width="1" />
<line x1="363.48" y1="588.3" x2="363.48" y2="583.3" stroke="#2b2b2b" stroke-width="1" />
<line x1="154.33" y1="588.3" x2="154.33" y2="585.8" stroke="#2b2b2b" stroke-width="1" />
<line x1="237.99" y1="588.3" x2="237.99" y2="585.8" stroke="#2b2b2b" stroke-width="1" />
<line x1="321.65" y1="588.3" x2="321.65" y2="585.8" stroke="#2b2b2b" stroke-width="1" />
<line x1="405.31" y1="588.3" x2="405.31" y2="585.8" stroke="#2b2b2b" stroke-width="1" />
<line x1="112.5" y1="566.8" x2="117.5" y2="566.8" stroke="#2b2b2b" stroke-width="1" />
<line x1="112.5" y1="485.1" x2="117.5" y2="485.1" stroke="#2b2b2b" stroke-width="1" />
<line x1="112.5" y1="403.4" x2="117.5" y2="403.4" stroke="#2b2b2b" stroke-width="1" />
<line x1="112.5" y1="525.95" x2="115" y2="525.95" stroke="#2b2b2b" stroke-width="1" />
<line x1="112.5" y1="444.25" x2="115" y2="444.25" stroke="#2b2b2b" stroke-width="1" />
<text font-size="18" text-anchor="middle" fill="#000" transform="translate(112.5 607) scale(0.965 1.04)" ><tspan>0</tspan></text>
<text font-size="18" text-anchor="middle" fill="#000" transform="translate(196.16 607) scale(0.965 1.04)" ><tspan>20</tspan></text>
<text font-size="18" text-anchor="middle" fill="#000" transform="translate(279.82 607) scale(0.965 1.04)" ><tspan>40</tspan></text>
<text font-size="18" text-anchor="middle" fill="#000" transform="translate(363.48 607) scale(0.965 1.04)" ><tspan>60</tspan></text>
<text font-size="18" text-anchor="end" fill="#000" transform="translate(106.8 571.7) scale(0.965 1.04)" ><tspan>0.0</tspan></text>
<text font-size="18" text-anchor="end" fill="#000" transform="translate(106.8 490) scale(0.965 1.04)" ><tspan>0.2</tspan></text>
<text font-size="18" text-anchor="end" fill="#000" transform="translate(106.8 408.3) scale(0.965 1.04)" ><tspan>0.4</tspan></text>
<text font-size="21" text-anchor="middle" fill="#000" transform="translate(65.9 487.6) rotate(-90) scale(1 1.04)" ><tspan>I</tspan><tspan font-size="12.5" dy="6.5">ph</tspan><tspan dy="-6.5"> (</tspan><tspan font-family="'Liberation Serif', 'Times New Roman', serif">μ</tspan><tspan>A)</tspan></text>
<text font-size="21" text-anchor="middle" fill="#000" transform="translate(273 634) scale(1 1.04)" ><tspan>Time (s)</tspan></text>
</g>
<g id="pe">
<clipPath id="ce"><rect x="529.5" y="363.5" width="322.5" height="226"/></clipPath>
<text font-size="21" text-anchor="start" fill="#000" transform="translate(472.5 360) scale(1 1.04)" ><tspan>e</tspan></text>
<rect x="577.2" y="386" width="61.1" height="183.1" fill="#ececec" stroke="none" stroke-width="1" />
<rect x="744" y="388.3" width="65" height="178.5" fill="#ececec" stroke="none" stroke-width="1" />
<g clip-path="url(#ce)">
<path d="M527.29 545.06 L527.94 544.74 L528.6 545.02 L529.26 545.74 L529.91 546.74 L530.57 547.89 L531.23 549.01 L531.88 549.97 L532.54 550.61 L533.19 550.77 L533.85 550.41 L534.51 549.67 L535.16 548.7 L535.82 547.66 L536.48 546.71 L537.13 546.01 L537.79 545.7 L538.44 545.86 L539.1 546.41 L539.76 547.26 L540.41 548.31 L541.07 549.47 L541.73 550.65 L542.38 551.76 L543.04 552.71 L543.69 553.4 L544.35 553.74 L545.01 553.66 L545.66 553.2 L546.32 552.45 L546.98 551.5 L547.63 550.44 L548.29 549.36 L548.94 548.35 L549.6 547.5 L550.26 546.89 L550.91 546.62 L551.57 546.77 L552.23 547.32 L552.88 548.07 L553.54 548.84 L554.19 549.43 L554.85 549.63 L555.51 549.36 L556.16 548.71 L556.82 547.84 L557.48 546.88 L558.13 546 L558.79 545.34 L559.44 545.04 L560.1 545.16 L560.76 545.6 L561.41 546.2 L562.07 546.81 L562.73 547.29 L563.38 547.49 L564.04 547.25 L564.69 546.52 L565.35 545.4 L566.01 544 L566.66 542.45 L567.32 540.89 L567.98 539.43 L568.63 538.2 L569.29 537.32 L569.94 536.91 L570.6 536.9 L571.26 537.04 L571.91 537.03 L572.57 536.62 L573.23 535.54 L573.88 533.68 L574.54 531.27 L575.19 528.54 L575.85 525.75 L576.51 523.16 L577.16 521.01 L577.82 519.55 L578.48 518.84 L579.13 518.62 L579.79 518.57 L580.45 518.39 L581.1 517.78 L581.76 516.43 L582.41 514.15 L583.07 511.18 L583.73 507.85 L584.38 504.51 L585.04 501.49 L585.7 499.13 L586.35 497.65 L587.01 496.84 L587.66 496.44 L588.32 496.17 L588.98 495.75 L589.63 494.9 L590.29 493.36 L590.95 490.97 L591.6 487.93 L592.26 484.53 L592.91 481.04 L593.57 477.72 L594.23 474.87 L594.88 472.74 L595.54 471.47 L596.2 470.82 L596.85 470.46 L597.51 470.09 L598.16 469.39 L598.82 468.05 L599.48 465.93 L600.13 463.22 L600.79 460.18 L601.45 457.06 L602.1 454.11 L602.76 451.58 L603.41 449.73 L604.07 448.66 L604.73 448.17 L605.38 448.03 L606.04 448.01 L606.7 447.87 L607.35 447.38 L608.01 446.31 L608.66 444.57 L609.32 442.35 L609.98 439.86 L610.63 437.3 L611.29 434.91 L611.95 432.88 L612.6 431.44 L613.26 430.66 L613.91 430.38 L614.57 430.39 L615.23 430.52 L615.88 430.58 L616.54 430.36 L617.2 429.68 L617.85 428.5 L618.51 426.95 L619.16 425.23 L619.82 423.51 L620.48 421.96 L621.13 420.77 L621.79 420.05 L622.45 419.71 L623.1 419.61 L623.76 419.6 L624.41 419.54 L625.07 419.28 L625.73 418.69 L626.38 417.69 L627.04 416.38 L627.7 414.93 L628.35 413.5 L629.01 412.24 L629.66 411.33 L630.32 410.88 L630.98 410.85 L631.63 411.09 L632.29 411.44 L632.95 411.77 L633.6 411.91 L634.26 411.73 L634.91 411.1 L635.57 410.11 L636.23 408.93 L636.88 407.73 L637.54 406.69 L638.2 405.98 L638.85 405.74 L639.51 405.89 L640.16 406.28 L640.82 406.78 L641.48 407.21 L642.13 407.45 L642.79 407.33 L643.45 406.76 L644.1 405.81 L644.76 404.64 L645.41 403.41 L646.07 402.28 L646.73 401.39 L647.38 400.91 L648.04 400.94 L648.7 401.38 L649.35 402.07 L650.01 402.83 L650.66 403.49 L651.32 403.9 L651.98 403.88 L652.63 403.32 L653.29 402.34 L653.95 401.17 L654.6 399.99 L655.26 399.01 L655.91 398.44 L656.57 398.45 L657.23 399 L657.88 399.88 L658.54 400.9 L659.2 401.84 L659.85 402.52 L660.51 402.72 L661.16 402.33 L661.82 401.48 L662.48 400.39 L663.13 399.23 L663.79 398.22 L664.45 397.54 L665.1 397.38 L665.76 397.66 L666.41 398.23 L667.07 398.94 L667.73 399.61 L668.38 400.09 L669.04 400.22 L669.7 399.98 L670.35 399.49 L671.01 398.87 L671.66 398.25 L672.32 397.74 L672.98 397.47 L673.63 397.55 L674.29 397.97 L674.95 398.59 L675.6 399.26 L676.26 399.83 L676.91 400.17 L677.57 400.13 L678.23 399.71 L678.88 398.99 L679.54 398.04 L680.2 396.95 L680.85 395.8 L681.51 394.67 L682.16 393.65 L682.82 392.82 L683.48 392.26 L684.13 392.03 L684.79 392.15 L685.45 392.55 L686.1 393.2 L686.76 394.05 L687.41 395.08 L688.07 396.22 L688.73 397.44 L689.38 398.66 L690.04 399.83 L690.7 400.88 L691.35 401.77 L692.01 402.42 L692.66 402.72 L693.32 402.54 L693.98 401.93 L694.63 400.99 L695.29 399.83 L695.95 398.55 L696.6 397.26 L697.26 396.05 L697.91 395.04 L698.57 394.33 L699.23 394.02 L699.88 394.15 L700.54 394.63 L701.2 395.29 L701.85 396 L702.51 396.61 L703.16 396.98 L703.82 396.98 L704.48 396.63 L705.13 396.01 L705.79 395.2 L706.45 394.25 L707.1 393.26 L707.76 392.29 L708.41 391.42 L709.07 390.72 L709.73 390.26 L710.38 390.13 L711.04 390.34 L711.7 390.84 L712.35 391.57 L713.01 392.49 L713.66 393.53 L714.32 394.64 L714.98 395.76 L715.63 396.85 L716.29 397.84 L716.95 398.68 L717.6 399.31 L718.26 399.68 L718.91 399.73 L719.57 399.47 L720.23 398.95 L720.88 398.22 L721.54 397.34 L722.2 396.37 L722.85 395.36 L723.51 394.38 L724.16 393.47 L724.82 392.7 L725.48 392.12 L726.13 391.79 L726.79 391.77 L727.45 392.06 L728.1 392.63 L728.76 393.4 L729.41 394.31 L730.07 395.3 L730.73 396.31 L731.38 397.27 L732.04 398.12 L732.7 398.8 L733.35 399.24 L734.01 399.4 L734.67 399.31 L735.32 399.08 L735.98 398.78 L736.63 398.5 L737.29 398.33 L737.95 398.36 L738.6 398.67 L739.26 399.3 L739.92 400.19 L740.57 401.23 L741.23 402.34 L741.88 403.41 L742.54 404.36 L743.2 405.08 L743.85 405.5 L744.51 405.57 L745.17 405.47 L745.82 405.38 L746.48 405.51 L747.13 406.06 L747.79 407.17 L748.45 408.77 L749.1 410.67 L749.76 412.72 L750.42 414.72 L751.07 416.53 L751.73 417.95 L752.38 418.88 L753.04 419.4 L753.7 419.72 L754.35 420 L755.01 420.45 L755.67 421.23 L756.32 422.53 L756.98 424.48 L757.63 426.93 L758.29 429.64 L758.95 432.37 L759.6 434.89 L760.26 436.95 L760.92 438.35 L761.57 439.15 L762.23 439.58 L762.88 439.9 L763.54 440.35 L764.2 441.17 L764.85 442.61 L765.51 444.89 L766.17 447.89 L766.82 451.31 L767.48 454.83 L768.13 458.16 L768.79 460.97 L769.45 463 L770.1 464.3 L770.76 465.09 L771.42 465.59 L772.07 466.02 L772.73 466.59 L773.38 467.52 L774.04 469.03 L774.7 471.31 L775.35 474.22 L776.01 477.47 L776.67 480.77 L777.32 483.82 L777.98 486.32 L778.63 488.03 L779.29 489.02 L779.95 489.53 L780.6 489.76 L781.26 489.95 L781.92 490.33 L782.57 491.1 L783.23 492.47 L783.88 494.34 L784.54 496.54 L785.2 498.87 L785.85 501.16 L786.51 503.2 L787.17 504.83 L787.82 505.9 L788.48 506.5 L789.13 506.82 L789.79 507.06 L790.45 507.4 L791.1 508.05 L791.76 509.17 L792.42 510.76 L793.07 512.64 L793.73 514.66 L794.38 516.65 L795.04 518.43 L795.7 519.84 L796.35 520.76 L797.01 521.26 L797.67 521.48 L798.32 521.54 L798.98 521.59 L799.63 521.75 L800.29 522.17 L800.95 522.92 L801.6 523.94 L802.26 525.1 L802.92 526.27 L803.57 527.34 L804.23 528.17 L804.88 528.67 L805.54 528.86 L806.2 528.86 L806.85 528.79 L807.51 528.75 L808.17 528.86 L808.82 529.24 L809.48 529.91 L810.13 530.79 L810.79 531.78 L811.45 532.79 L812.1 533.75 L812.76 534.56 L813.42 535.13 L814.07 535.39 L814.73 535.38 L815.38 535.23 L816.04 535.05 L816.7 534.96 L817.35 535.05 L818.01 535.46 L818.67 536.17 L819.32 537.08 L819.98 538.07 L820.63 539.02 L821.29 539.82 L821.95 540.35 L822.6 540.51 L823.26 540.3 L823.92 539.89 L824.57 539.4 L825.23 539.01 L825.88 538.84 L826.54 539.05 L827.2 539.64 L827.85 540.47 L828.51 541.42 L829.17 542.38 L829.82 543.2 L830.48 543.78 L831.13 544 L831.79 543.86 L832.45 543.49 L833.1 543.01 L833.76 542.53 L834.42 542.17 L835.07 542.05 L835.73 542.27 L836.38 542.81 L837.04 543.55 L837.7 544.38 L838.35 545.17 L839.01 545.81 L839.67 546.16 L840.32 546.14 L840.98 545.79 L841.63 545.28 L842.29 544.77 L842.95 544.43 L843.6 544.41 L844.26 544.75 L844.92 545.35 L845.57 546.08 L846.23 546.83 L846.88 547.49 L847.54 547.93 L848.2 548.04 L848.85 547.79 L849.51 547.25 L850.17 546.51 L850.82 545.62 L851.48 544.68 L852.13 543.75 L852.79 542.9 L853.45 542.21 L854.1 541.76 L854.76 541.62" fill="none" stroke="#1c1cee" stroke-width="2.6" stroke-linejoin="round" stroke-linecap="butt" />
</g>
<rect x="529.5" y="363.5" width="322.5" height="226" fill="none" stroke="#2b2b2b" stroke-width="1" />
<line x1="572.7" y1="589.5" x2="572.7" y2="584.5" stroke="#2b2b2b" stroke-width="1" />
<line x1="659.95" y1="589.5" x2="659.95" y2="584.5" stroke="#2b2b2b" stroke-width="1" />
<line x1="747.2" y1="589.5" x2="747.2" y2="584.5" stroke="#2b2b2b" stroke-width="1" />
<line x1="834.45" y1="589.5" x2="834.45" y2="584.5" stroke="#2b2b2b" stroke-width="1" />
<line x1="616.33" y1="589.5" x2="616.33" y2="587" stroke="#2b2b2b" stroke-width="1" />
<line x1="703.58" y1="589.5" x2="703.58" y2="587" stroke="#2b2b2b" stroke-width="1" />
<line x1="790.83" y1="589.5" x2="790.83" y2="587" stroke="#2b2b2b" stroke-width="1" />
<text font-size="18" text-anchor="middle" fill="#000" transform="translate(572.7 608) scale(0.965 1.04)" ><tspan>3</tspan></text>
<text font-size="18" text-anchor="middle" fill="#000" transform="translate(659.95 608) scale(0.965 1.04)" ><tspan>4</tspan></text>
<text font-size="18" text-anchor="middle" fill="#000" transform="translate(747.2 608) scale(0.965 1.04)" ><tspan>5</tspan></text>
<text font-size="18" text-anchor="middle" fill="#000" transform="translate(834.45 608) scale(0.965 1.04)" ><tspan>6</tspan></text>
<text font-size="18.8" text-anchor="start" fill="#ff1a1a" transform="translate(580.3 555) scale(1 1.04)" ><tspan>611 </tspan><tspan font-size="20" font-family="'Liberation Serif', 'Times New Roman', serif">μ</tspan><tspan>s</tspan></text>
<text font-size="18.8" text-anchor="start" fill="#ff1a1a" transform="translate(749.8 554.3) scale(1 1.04)" ><tspan>716 </tspan><tspan font-size="20" font-family="'Liberation Serif', 'Times New Roman', serif">μ</tspan><tspan>s</tspan></text>
<text font-size="21" text-anchor="middle" fill="#000" transform="translate(506.2 488.5) rotate(-90) scale(1 1.04)" ><tspan>Intensity (a.u.)</tspan></text>
<text font-size="21" text-anchor="middle" fill="#000" transform="translate(691 633) scale(1 1.04)" ><tspan>Time (ms)</tspan></text>
</g>
<g id="pf">
<clipPath id="cf"><rect x="946.5" y="360.5" width="323" height="227"/></clipPath>
<text font-size="21" text-anchor="start" fill="#000" transform="translate(886.5 360) scale(1 1.04)" ><tspan>f</tspan></text>
<g clip-path="url(#cf)">
<path d="M946.5 497.5 L951.97 496.65 L957.45 495.82 L962.92 494.98 L968.4 494.16 L973.87 493.34 L979.35 492.52 L984.82 491.72 L990.3 490.91 L995.77 490.12 L1001.25 489.33 L1006.72 488.55 L1012.19 487.78 L1017.67 487.01 L1023.14 486.26 L1028.62 485.5 L1034.09 484.76 L1039.57 484.04 L1045.04 483.32 L1050.52 482.62 L1055.99 481.93 L1061.47 481.25 L1066.94 480.57 L1072.42 479.89 L1077.89 479.21 L1083.36 478.53 L1088.84 477.84 L1094.31 477.15 L1099.79 476.45 L1105.26 475.73 L1110.74 475.01 L1116.21 474.26 L1121.69 473.51 L1127.16 472.74 L1132.64 471.97 L1138.11 471.18 L1143.58 470.4 L1149.06 469.6 L1154.53 468.8 L1160.01 468 L1165.48 467.19 L1170.96 466.38 L1176.43 465.58 L1181.91 464.77 L1187.38 463.96 L1192.86 463.15 L1198.33 462.33 L1203.81 461.52 L1209.28 460.7 L1214.75 459.87 L1220.23 459.05 L1225.7 458.22 L1231.18 457.39 L1236.65 456.56 L1242.13 455.72 L1247.6 454.88 L1253.08 454.04 L1258.55 453.2 L1264.03 452.35 L1269.5 451.5" fill="none" stroke="#ccccff" stroke-width="2" stroke-linejoin="round" stroke-linecap="butt" />
<path d="M946.5 488.1 L951.97 487.6 L957.45 487.1 L962.92 486.6 L968.4 486.11 L973.87 485.62 L979.35 485.14 L984.82 484.66 L990.3 484.18 L995.77 483.71 L1001.25 483.25 L1006.72 482.79 L1012.19 482.33 L1017.67 481.88 L1023.14 481.43 L1028.62 480.99 L1034.09 480.56 L1039.57 480.13 L1045.04 479.72 L1050.52 479.31 L1055.99 478.92 L1061.47 478.52 L1066.94 478.13 L1072.42 477.74 L1077.89 477.35 L1083.36 476.96 L1088.84 476.56 L1094.31 476.15 L1099.79 475.74 L1105.26 475.32 L1110.74 474.88 L1116.21 474.44 L1121.69 473.98 L1127.16 473.5 L1132.64 473.02 L1138.11 472.54 L1143.58 472.04 L1149.06 471.54 L1154.53 471.04 L1160.01 470.53 L1165.48 470.03 L1170.96 469.52 L1176.43 469.02 L1181.91 468.53 L1187.38 468.03 L1192.86 467.53 L1198.33 467.04 L1203.81 466.54 L1209.28 466.04 L1214.75 465.54 L1220.23 465.04 L1225.7 464.54 L1231.18 464.04 L1236.65 463.53 L1242.13 463.03 L1247.6 462.53 L1253.08 462.02 L1258.55 461.51 L1264.03 461.01 L1269.5 460.5" fill="none" stroke="#7474ff" stroke-width="2" stroke-linejoin="round" stroke-linecap="butt" />
<path d="M946.5 478.3 L951.97 478.15 L957.45 478 L962.92 477.85 L968.4 477.71 L973.87 477.57 L979.35 477.43 L984.82 477.29 L990.3 477.15 L995.77 477.02 L1001.25 476.89 L1006.72 476.76 L1012.19 476.64 L1017.67 476.51 L1023.14 476.39 L1028.62 476.27 L1034.09 476.16 L1039.57 476.05 L1045.04 475.96 L1050.52 475.86 L1055.99 475.77 L1061.47 475.69 L1066.94 475.6 L1072.42 475.51 L1077.89 475.42 L1083.36 475.33 L1088.84 475.23 L1094.31 475.13 L1099.79 475.01 L1105.26 474.89 L1110.74 474.76 L1116.21 474.61 L1121.69 474.43 L1127.16 474.22 L1132.64 473.99 L1138.11 473.74 L1143.58 473.48 L1149.06 473.22 L1154.53 472.95 L1160.01 472.68 L1165.48 472.42 L1170.96 472.17 L1176.43 471.94 L1181.91 471.73 L1187.38 471.53 L1192.86 471.33 L1198.33 471.13 L1203.81 470.94 L1209.28 470.75 L1214.75 470.56 L1220.23 470.37 L1225.7 470.19 L1231.18 470.02 L1236.65 469.84 L1242.13 469.68 L1247.6 469.51 L1253.08 469.35 L1258.55 469.2 L1264.03 469.05 L1269.5 468.9" fill="none" stroke="#3030ff" stroke-width="2" stroke-linejoin="round" stroke-linecap="butt" />
<path d="M946.5 474.75 L951.97 474.73 L957.45 474.71 L962.92 474.7 L968.4 474.68 L973.87 474.66 L979.35 474.64 L984.82 474.62 L990.3 474.61 L995.77 474.59 L1001.25 474.57 L1006.72 474.55 L1012.19 474.53 L1017.67 474.51 L1023.14 474.5 L1028.62 474.48 L1034.09 474.46 L1039.57 474.44 L1045.04 474.42 L1050.52 474.4 L1055.99 474.38 L1061.47 474.36 L1066.94 474.34 L1072.42 474.32 L1077.89 474.3 L1083.36 474.28 L1088.84 474.26 L1094.31 474.25 L1099.79 474.23 L1105.26 474.22 L1110.74 474.2 L1116.21 474.19 L1121.69 474.18 L1127.16 474.18 L1132.64 474.17 L1138.11 474.16 L1143.58 474.16 L1149.06 474.15 L1154.53 474.15 L1160.01 474.14 L1165.48 474.13 L1170.96 474.12 L1176.43 474.11 L1181.91 474.09 L1187.38 474.07 L1192.86 474.04 L1198.33 474 L1203.81 473.95 L1209.28 473.89 L1214.75 473.83 L1220.23 473.76 L1225.7 473.68 L1231.18 473.6 L1236.65 473.51 L1242.13 473.42 L1247.6 473.32 L1253.08 473.22 L1258.55 473.12 L1264.03 473.01 L1269.5 472.9" fill="none" stroke="#0000ff" stroke-width="2.3" stroke-linejoin="round" stroke-linecap="butt" />
<path d="M946.5 579.1 L951.97 575.41 L957.45 571.74 L962.92 568.09 L968.4 564.45 L973.87 560.83 L979.35 557.23 L984.82 553.65 L990.3 550.08 L995.77 546.53 L1001.25 543 L1006.72 539.48 L1012.19 535.99 L1017.67 532.51 L1023.14 529.05 L1028.62 525.61 L1034.09 522.19 L1039.57 518.81 L1045.04 515.45 L1050.52 512.12 L1055.99 508.81 L1061.47 505.52 L1066.94 502.24 L1072.42 498.98 L1077.89 495.72 L1083.36 492.46 L1088.84 489.2 L1094.31 485.93 L1099.79 482.66 L1105.26 479.37 L1110.74 476.07 L1116.21 472.75 L1121.69 469.42 L1127.16 466.09 L1132.64 462.76 L1138.11 459.42 L1143.58 456.07 L1149.06 452.73 L1154.53 449.38 L1160.01 446.03 L1165.48 442.68 L1170.96 439.33 L1176.43 435.98 L1181.91 432.63 L1187.38 429.28 L1192.86 425.93 L1198.33 422.58 L1203.81 419.23 L1209.28 415.87 L1214.75 412.52 L1220.23 409.16 L1225.7 405.8 L1231.18 402.44 L1236.65 399.08 L1242.13 395.72 L1247.6 392.36 L1253.08 389 L1258.55 385.63 L1264.03 382.27 L1269.5 378.9" fill="none" stroke="#ffdcdc" stroke-width="2" stroke-linejoin="round" stroke-linecap="butt" />
<path d="M946.5 556.65 L951.97 553.73 L957.45 550.83 L962.92 547.94 L968.4 545.07 L973.87 542.21 L979.35 539.37 L984.82 536.54 L990.3 533.73 L995.77 530.93 L1001.25 528.15 L1006.72 525.38 L1012.19 522.63 L1017.67 519.9 L1023.14 517.18 L1028.62 514.48 L1034.09 511.8 L1039.57 509.15 L1045.04 506.53 L1050.52 503.93 L1055.99 501.35 L1061.47 498.79 L1066.94 496.24 L1072.42 493.7 L1077.89 491.16 L1083.36 488.62 L1088.84 486.07 L1094.31 483.52 L1099.79 480.96 L1105.26 478.38 L1110.74 475.78 L1116.21 473.16 L1121.69 470.53 L1127.16 467.88 L1132.64 465.23 L1138.11 462.57 L1143.58 459.91 L1149.06 457.24 L1154.53 454.57 L1160.01 451.9 L1165.48 449.22 L1170.96 446.55 L1176.43 443.89 L1181.91 441.22 L1187.38 438.56 L1192.86 435.9 L1198.33 433.24 L1203.81 430.57 L1209.28 427.91 L1214.75 425.25 L1220.23 422.58 L1225.7 419.92 L1231.18 417.26 L1236.65 414.59 L1242.13 411.93 L1247.6 409.26 L1253.08 406.6 L1258.55 403.93 L1264.03 401.27 L1269.5 398.6" fill="none" stroke="#ff9c9c" stroke-width="2" stroke-linejoin="round" stroke-linecap="butt" />
<path d="M946.5 543.9 L951.97 541.43 L957.45 538.98 L962.92 536.54 L968.4 534.11 L973.87 531.69 L979.35 529.29 L984.82 526.9 L990.3 524.53 L995.77 522.16 L1001.25 519.81 L1006.72 517.48 L1012.19 515.15 L1017.67 512.85 L1023.14 510.55 L1028.62 508.27 L1034.09 506.01 L1039.57 503.77 L1045.04 501.55 L1050.52 499.36 L1055.99 497.18 L1061.47 495.02 L1066.94 492.86 L1072.42 490.71 L1077.89 488.57 L1083.36 486.43 L1088.84 484.28 L1094.31 482.13 L1099.79 479.97 L1105.26 477.8 L1110.74 475.61 L1116.21 473.41 L1121.69 471.19 L1127.16 468.97 L1132.64 466.75 L1138.11 464.51 L1143.58 462.28 L1149.06 460.04 L1154.53 457.8 L1160.01 455.56 L1165.48 453.32 L1170.96 451.09 L1176.43 448.85 L1181.91 446.62 L1187.38 444.4 L1192.86 442.17 L1198.33 439.94 L1203.81 437.71 L1209.28 435.48 L1214.75 433.26 L1220.23 431.03 L1225.7 428.8 L1231.18 426.58 L1236.65 424.35 L1242.13 422.12 L1247.6 419.9 L1253.08 417.67 L1258.55 415.45 L1264.03 413.22 L1269.5 411" fill="none" stroke="#ff6060" stroke-width="2" stroke-linejoin="round" stroke-linecap="butt" />
<path d="M946.5 525.2 L951.97 523.38 L957.45 521.57 L962.92 519.77 L968.4 517.98 L973.87 516.21 L979.35 514.44 L984.82 512.68 L990.3 510.94 L995.77 509.21 L1001.25 507.48 L1006.72 505.77 L1012.19 504.07 L1017.67 502.38 L1023.14 500.71 L1028.62 499.04 L1034.09 497.39 L1039.57 495.77 L1045.04 494.17 L1050.52 492.58 L1055.99 491.01 L1061.47 489.45 L1066.94 487.9 L1072.42 486.36 L1077.89 484.81 L1083.36 483.26 L1088.84 481.71 L1094.31 480.15 L1099.79 478.57 L1105.26 476.98 L1110.74 475.37 L1116.21 473.74 L1121.69 472.09 L1127.16 470.42 L1132.64 468.73 L1138.11 467.04 L1143.58 465.34 L1149.06 463.63 L1154.53 461.93 L1160.01 460.23 L1165.48 458.53 L1170.96 456.85 L1176.43 455.18 L1181.91 453.53 L1187.38 451.88 L1192.86 450.24 L1198.33 448.6 L1203.81 446.96 L1209.28 445.33 L1214.75 443.71 L1220.23 442.08 L1225.7 440.47 L1231.18 438.85 L1236.65 437.25 L1242.13 435.64 L1247.6 434.04 L1253.08 432.45 L1258.55 430.86 L1264.03 429.28 L1269.5 427.7" fill="none" stroke="#ff3030" stroke-width="2" stroke-linejoin="round" stroke-linecap="butt" />
<path d="M946.5 513.75 L951.97 512.34 L957.45 510.94 L962.92 509.54 L968.4 508.15 L973.87 506.78 L979.35 505.41 L984.82 504.05 L990.3 502.7 L995.77 501.35 L1001.25 500.02 L1006.72 498.7 L1012.19 497.38 L1017.67 496.07 L1023.14 494.78 L1028.62 493.49 L1034.09 492.21 L1039.57 490.95 L1045.04 489.7 L1050.52 488.47 L1055.99 487.24 L1061.47 486.02 L1066.94 484.81 L1072.42 483.61 L1077.89 482.41 L1083.36 481.21 L1088.84 480.01 L1094.31 478.82 L1099.79 477.62 L1105.26 476.41 L1110.74 475.2 L1116.21 473.99 L1121.69 472.78 L1127.16 471.57 L1132.64 470.36 L1138.11 469.15 L1143.58 467.94 L1149.06 466.73 L1154.53 465.52 L1160.01 464.31 L1165.48 463.1 L1170.96 461.88 L1176.43 460.65 L1181.91 459.42 L1187.38 458.19 L1192.86 456.95 L1198.33 455.72 L1203.81 454.48 L1209.28 453.23 L1214.75 451.99 L1220.23 450.74 L1225.7 449.49 L1231.18 448.24 L1236.65 446.98 L1242.13 445.73 L1247.6 444.47 L1253.08 443.2 L1258.55 441.94 L1264.03 440.67 L1269.5 439.4" fill="none" stroke="#ff0000" stroke-width="2.3" stroke-linejoin="round" stroke-linecap="butt" />
</g>
<rect x="946.5" y="360.5" width="323" height="227" fill="none" stroke="#2b2b2b" stroke-width="1" />
<line x1="1027.25" y1="587.5" x2="1027.25" y2="582.5" stroke="#2b2b2b" stroke-width="1" />
<line x1="1108" y1="587.5" x2="1108" y2="582.5" stroke="#2b2b2b" stroke-width="1" />
<line x1="1188.75" y1="587.5" x2="1188.75" y2="582.5" stroke="#2b2b2b" stroke-width="1" />
<line x1="986.88" y1="587.5" x2="986.88" y2="585" stroke="#2b2b2b" stroke-width="1" />
<line x1="1067.62" y1="587.5" x2="1067.62" y2="585" stroke="#2b2b2b" stroke-width="1" />
<line x1="1148.38" y1="587.5" x2="1148.38" y2="585" stroke="#2b2b2b" stroke-width="1" />
<line x1="1229.12" y1="587.5" x2="1229.12" y2="585" stroke="#2b2b2b" stroke-width="1" />
<line x1="946.5" y1="530.75" x2="951.5" y2="530.75" stroke="#2b2b2b" stroke-width="1" />
<line x1="946.5" y1="474" x2="951.5" y2="474" stroke="#2b2b2b" stroke-width="1" />
<line x1="946.5" y1="417.25" x2="951.5" y2="417.25" stroke="#2b2b2b" stroke-width="1" />
<line x1="946.5" y1="559.12" x2="949" y2="559.12" stroke="#2b2b2b" stroke-width="1" />
<line x1="946.5" y1="502.38" x2="949" y2="502.38" stroke="#2b2b2b" stroke-width="1" />
<line x1="946.5" y1="445.62" x2="949" y2="445.62" stroke="#2b2b2b" stroke-width="1" />
<line x1="946.5" y1="388.88" x2="949" y2="388.88" stroke="#2b2b2b" stroke-width="1" />
<clipPath id="cif"><rect x="947" y="361" width="121.4" height="90"/></clipPath>
<linearGradient id="gif" x1="0" y1="0.4" x2="1" y2="0.6"><stop offset="0" stop-color="#68bc58"/><stop offset="0.45" stop-color="#7cc058"/><stop offset="0.62" stop-color="#62bc5e"/><stop offset="1" stop-color="#5cb868"/></linearGradient>
<rect x="947" y="361" width="121.4" height="90" fill="#6b4069" stroke="none" stroke-width="1" />
<g clip-path="url(#cif)" filter="url(#blur2)">
<polygon points="952.7,359.56 979.59,359.56 996.91,384.65 1013.64,412.13 996.91,412.13" fill="#f6c440" />
<polygon points="1008.27,359.56 1028.58,359.56 1027.38,371.51 1031.57,385.85 1037.54,397.8 1020.81,397.8" fill="#f6c440" />
<polygon points="959.87,404.01 1046.5,366.13 1048.29,369.12 1046.86,385.85 1043.28,428.86 1029.18,440.45 1014.24,446.79" fill="url(#gif)" />
<line x1="1035.15" y1="371.51" x2="1044.71" y2="397.8" stroke="#b88a6a" stroke-width="1.6" opacity="0.75"/>
<line x1="1039.93" y1="369.72" x2="1046.5" y2="389.43" stroke="#c0806c" stroke-width="1.6" opacity="0.75"/>
<line x1="1030.97" y1="373.9" x2="1041.12" y2="400.19" stroke="#9ab060" stroke-width="1.6" opacity="0.75"/>
<polygon points="982.57,391.22 998.35,384.41 1006.47,397.8 1015.55,418.11 1013.88,420.74 1005.04,423.72 1002.05,420.74 992.13,400.78" fill="#f4c646" />
<polygon points="1015.79,378.08 1028.22,372.7 1031.57,385.85 1043.04,406.16 1042.44,408.07 1035.39,411.18 1032.76,409.27 1022.01,385.85" fill="#f4c646" />
<polygon points="959.87,404.01 1046.5,366.13 1048.29,369.12 1046.86,385.85 1043.28,428.86 1029.18,440.45 1014.24,446.79" fill="none" stroke="#2e2a40" stroke-width="1.3" stroke-linejoin="round"/>
<line x1="1014.24" y1="446.19" x2="1016.03" y2="426.47" stroke="#7ccf6a" stroke-width="1" opacity="0.8"/>
<line x1="1017.23" y1="406.16" x2="1025.59" y2="396.6" stroke="#7a9a58" stroke-width="0.8" />
</g>
<rect x="1034.55" y="445.95" width="29.27" height="2.03" fill="#fff" stroke="none" stroke-width="1" />
<text font-size="12.3" text-anchor="start" fill="#fff" transform="translate(1028.58 440.33) scale(1 1.04)" ><tspan>10 </tspan><tspan font-family="'Liberation Serif', 'Times New Roman', serif">μ</tspan><tspan>m</tspan></text>
<text font-size="18" text-anchor="middle" fill="#000" transform="translate(946.5 606.5) scale(0.965 1.04)" ><tspan>-1.0</tspan></text>
<text font-size="18" text-anchor="middle" fill="#000" transform="translate(1027.25 606.5) scale(0.965 1.04)" ><tspan>-0.5</tspan></text>
<text font-size="18" text-anchor="middle" fill="#000" transform="translate(1108 606.5) scale(0.965 1.04)" ><tspan>0.0</tspan></text>
<text font-size="18" text-anchor="middle" fill="#000" transform="translate(1188.75 606.5) scale(0.965 1.04)" ><tspan>0.5</tspan></text>
<text font-size="18" text-anchor="middle" fill="#000" transform="translate(1269.5 606.5) scale(0.965 1.04)" ><tspan>1.0</tspan></text>
<text font-size="18" text-anchor="end" fill="#000" transform="translate(942 366) scale(0.965 1.04)" ><tspan>0.06</tspan></text>
<text font-size="18" text-anchor="end" fill="#000" transform="translate(942 422.75) scale(0.965 1.04)" ><tspan>0.03</tspan></text>
<text font-size="18" text-anchor="end" fill="#000" transform="translate(942 479.5) scale(0.965 1.04)" ><tspan>0.00</tspan></text>
<text font-size="18" text-anchor="end" fill="#000" transform="translate(942 536.25) scale(0.965 1.04)" ><tspan>-0.03</tspan></text>
<text font-size="18" text-anchor="end" fill="#000" transform="translate(942 593) scale(0.965 1.04)" ><tspan>-0.06</tspan></text>
<line x1="1061.7" y1="514.6" x2="1095" y2="514.6" stroke="#0000ff" stroke-width="2" />
<text font-size="14.6" text-anchor="start" fill="#000" transform="translate(1097.8 520.2) scale(1 1.04)" ><tspan>0.19 </tspan><tspan font-family="'Liberation Serif', 'Times New Roman', serif">μ</tspan><tspan>W</tspan></text>
<line x1="1061.7" y1="533.7" x2="1095" y2="533.7" stroke="#3030ff" stroke-width="2" />
<text font-size="14.6" text-anchor="start" fill="#000" transform="translate(1097.8 539.3) scale(1 1.04)" ><tspan>0.94 </tspan><tspan font-family="'Liberation Serif', 'Times New Roman', serif">μ</tspan><tspan>W</tspan></text>
<line x1="1061.7" y1="552.9" x2="1095" y2="552.9" stroke="#7474ff" stroke-width="2" />
<text font-size="14.6" text-anchor="start" fill="#000" transform="translate(1097.8 558.5) scale(1 1.04)" ><tspan>1.88 </tspan><tspan font-family="'Liberation Serif', 'Times New Roman', serif">μ</tspan><tspan>W</tspan></text>
<line x1="1061.7" y1="572.1" x2="1095" y2="572.1" stroke="#ccccff" stroke-width="2" />
<text font-size="14.6" text-anchor="start" fill="#000" transform="translate(1097.8 577.7) scale(1 1.04)" ><tspan>2.82 </tspan><tspan font-family="'Liberation Serif', 'Times New Roman', serif">μ</tspan><tspan>W</tspan></text>
<line x1="1170.6" y1="495.5" x2="1203.9" y2="495.5" stroke="#ff0000" stroke-width="2" />
<text font-size="14.6" text-anchor="start" fill="#000" transform="translate(1207.3 501.1) scale(1 1.04)" ><tspan>3.77 </tspan><tspan font-family="'Liberation Serif', 'Times New Roman', serif">μ</tspan><tspan>W</tspan></text>
<line x1="1170.6" y1="514.6" x2="1203.9" y2="514.6" stroke="#ff3030" stroke-width="2" />
<text font-size="14.6" text-anchor="start" fill="#000" transform="translate(1207.3 520.2) scale(1 1.04)" ><tspan>4.71 </tspan><tspan font-family="'Liberation Serif', 'Times New Roman', serif">μ</tspan><tspan>W</tspan></text>
<line x1="1170.6" y1="533.7" x2="1203.9" y2="533.7" stroke="#ff6060" stroke-width="2" />
<text font-size="14.6" text-anchor="start" fill="#000" transform="translate(1207.3 539.3) scale(1 1.04)" ><tspan>5.65 </tspan><tspan font-family="'Liberation Serif', 'Times New Roman', serif">μ</tspan><tspan>W</tspan></text>
<line x1="1170.6" y1="552.9" x2="1203.9" y2="552.9" stroke="#ff9c9c" stroke-width="2" />
<text font-size="14.6" text-anchor="start" fill="#000" transform="translate(1207.3 558.5) scale(1 1.04)" ><tspan>6.59 </tspan><tspan font-family="'Liberation Serif', 'Times New Roman', serif">μ</tspan><tspan>W</tspan></text>
<line x1="1170.6" y1="572.1" x2="1203.9" y2="572.1" stroke="#ffdcdc" stroke-width="2" />
<text font-size="14.6" text-anchor="start" fill="#000" transform="translate(1207.3 577.7) scale(1 1.04)" ><tspan>7.53 </tspan><tspan font-family="'Liberation Serif', 'Times New Roman', serif">μ</tspan><tspan>W</tspan></text>
<text font-size="21" text-anchor="middle" fill="#000" transform="translate(891.8 487.1) rotate(-90) scale(1 1.04)" ><tspan>I</tspan><tspan font-size="12.5" dy="6.5">ph</tspan><tspan dy="-6.5"> (</tspan><tspan font-family="'Liberation Serif', 'Times New Roman', serif">μ</tspan><tspan>A)</tspan></text>
<text font-size="21" text-anchor="middle" fill="#000" transform="translate(1108 634) scale(1 1.04)" ><tspan>V</tspan><tspan font-size="12.5" dy="6.5">ds</tspan><tspan dy="-6.5"> (V)</tspan></text>
</g>
<g id="pg">
<text font-size="21" text-anchor="start" fill="#000" transform="translate(28 669) scale(1 1.04)" ><tspan>g</tspan></text>
<rect x="112.5" y="661.5" width="322.5" height="225.5" fill="none" stroke="#2b2b2b" stroke-width="1" />
<line x1="128.96" y1="887" x2="128.96" y2="884.5" stroke="#2b2b2b" stroke-width="1" />
<line x1="143.23" y1="887" x2="143.23" y2="884.5" stroke="#2b2b2b" stroke-width="1" />
<line x1="156" y1="887" x2="156" y2="882" stroke="#2b2b2b" stroke-width="1" />
<line x1="239.99" y1="887" x2="239.99" y2="884.5" stroke="#2b2b2b" stroke-width="1" />
<line x1="289.12" y1="887" x2="289.12" y2="884.5" stroke="#2b2b2b" stroke-width="1" />
<line x1="323.97" y1="887" x2="323.97" y2="884.5" stroke="#2b2b2b" stroke-width="1" />
<line x1="351.01" y1="887" x2="351.01" y2="884.5" stroke="#2b2b2b" stroke-width="1" />
<line x1="373.1" y1="887" x2="373.1" y2="884.5" stroke="#2b2b2b" stroke-width="1" />
<line x1="391.78" y1="887" x2="391.78" y2="884.5" stroke="#2b2b2b" stroke-width="1" />
<line x1="407.96" y1="887" x2="407.96" y2="884.5" stroke="#2b2b2b" stroke-width="1" />
<line x1="422.23" y1="887" x2="422.23" y2="884.5" stroke="#2b2b2b" stroke-width="1" />
<line x1="112.5" y1="872" x2="115" y2="872" stroke="#2b2b2b" stroke-width="1" />
<line x1="112.5" y1="850.18" x2="115" y2="850.18" stroke="#2b2b2b" stroke-width="1" />
<line x1="112.5" y1="834.7" x2="115" y2="834.7" stroke="#2b2b2b" stroke-width="1" />
<line x1="112.5" y1="822.7" x2="115" y2="822.7" stroke="#2b2b2b" stroke-width="1" />
<line x1="112.5" y1="812.89" x2="115" y2="812.89" stroke="#2b2b2b" stroke-width="1" />
<line x1="112.5" y1="804.59" x2="115" y2="804.59" stroke="#2b2b2b" stroke-width="1" />
<line x1="112.5" y1="797.41" x2="115" y2="797.41" stroke="#2b2b2b" stroke-width="1" />
<line x1="112.5" y1="791.07" x2="115" y2="791.07" stroke="#2b2b2b" stroke-width="1" />
<line x1="112.5" y1="785.4" x2="117.5" y2="785.4" stroke="#2b2b2b" stroke-width="1" />
<line x1="112.5" y1="748.1" x2="115" y2="748.1" stroke="#2b2b2b" stroke-width="1" />
<line x1="112.5" y1="726.28" x2="115" y2="726.28" stroke="#2b2b2b" stroke-width="1" />
<line x1="112.5" y1="710.8" x2="115" y2="710.8" stroke="#2b2b2b" stroke-width="1" />
<line x1="112.5" y1="698.8" x2="115" y2="698.8" stroke="#2b2b2b" stroke-width="1" />
<line x1="112.5" y1="688.99" x2="115" y2="688.99" stroke="#2b2b2b" stroke-width="1" />
<line x1="112.5" y1="680.69" x2="115" y2="680.69" stroke="#2b2b2b" stroke-width="1" />
<line x1="112.5" y1="673.51" x2="115" y2="673.51" stroke="#2b2b2b" stroke-width="1" />
<line x1="112.5" y1="667.17" x2="115" y2="667.17" stroke="#2b2b2b" stroke-width="1" />
<text font-size="18" text-anchor="middle" fill="#000" transform="translate(156 906) scale(0.965 1.04)" ><tspan>1</tspan></text>
<text font-size="18" text-anchor="middle" fill="#000" transform="translate(435 906) scale(0.965 1.04)" ><tspan>10</tspan></text>
<text font-size="18" text-anchor="end" fill="#000" transform="translate(105.6 666.4) scale(0.965 1.04)" ><tspan>0.1</tspan></text>
<text font-size="18" text-anchor="end" fill="#000" transform="translate(106.2 790.3) scale(0.965 1.04)" ><tspan>0.01</tspan></text>
<circle cx="148.06" cy="854.7" r="5.3" fill="url(#gr)"/>
<circle cx="232.57" cy="801.11" r="5.3" fill="url(#gr)"/>
<circle cx="281.69" cy="773.97" r="5.3" fill="url(#gr)"/>
<circle cx="316.39" cy="750.96" r="5.3" fill="url(#gr)"/>
<circle cx="343.87" cy="736.19" r="5.3" fill="url(#gr)"/>
<circle cx="365.85" cy="719.7" r="5.3" fill="url(#gr)"/>
<circle cx="384.75" cy="710.08" r="5.3" fill="url(#gr)"/>
<circle cx="400.55" cy="697.71" r="5.3" fill="url(#gr)"/>
<line x1="148.06" y1="854.7" x2="400.6" y2="698.4" stroke="#0000ff" stroke-width="2.4" stroke-linecap="round"/>
<circle cx="372" cy="855" r="5.3" fill="url(#gr)"/>
<text font-size="14.2" text-anchor="start" fill="#000" transform="translate(389.8 858.6) scale(1 1.04)" ><tspan>Data</tspan></text>
<line x1="358.3" y1="872.6" x2="386.5" y2="872.6" stroke="#0000ff" stroke-width="2.2" />
<text font-size="14.3" text-anchor="start" fill="#000" transform="translate(389.8 877) scale(1 1.04)" ><tspan>Fitting</tspan></text>
<text font-size="21" text-anchor="middle" fill="#000" transform="translate(63.2 787.2) rotate(-90) scale(1 1.04)" ><tspan>I</tspan><tspan font-size="12.5" dy="6.5">ph</tspan><tspan dy="-6.5"> (</tspan><tspan font-family="'Liberation Serif', 'Times New Roman', serif">μ</tspan><tspan>A)</tspan></text>
<text font-size="21" text-anchor="middle" fill="#000" transform="translate(273.5 927) scale(1 1.04)" ><tspan>Power (</tspan><tspan font-family="'Liberation Serif', 'Times New Roman', serif">μ</tspan><tspan>W)</tspan></text>
</g>
<g id="ph">
<clipPath id="ch"><rect x="529.5" y="661.5" width="322.5" height="226"/></clipPath>
<text font-size="21" text-anchor="start" fill="#000" transform="translate(472.5 669) scale(1 1.04)" ><tspan>h</tspan></text>
<rect x="589" y="699.7" width="54.9" height="165.4" fill="#ececec" stroke="none" stroke-width="1" />
<rect x="733.7" y="699" width="59" height="165.7" fill="#ececec" stroke="none" stroke-width="1" />
<g clip-path="url(#ch)">
<path d="M529.81 849.43 L530.33 853.73 L530.85 856.98 L531.37 859.1 L531.89 863.04 L532.42 861.23 L532.94 859.69 L533.46 859.16 L533.98 859.59 L534.5 861.21 L535.03 862.16 L535.55 862.47 L536.07 861.84 L536.59 859.55 L537.11 858.33 L537.63 856.48 L538.16 856.86 L538.68 857.07 L539.2 858.1 L539.72 858.82 L540.24 858.22 L540.77 857.53 L541.29 856.96 L541.81 856.25 L542.33 856.69 L542.85 856.28 L543.37 855.15 L543.9 855.65 L544.42 856.58 L544.94 858.03 L545.46 858.21 L545.98 858.12 L546.51 856.5 L547.03 855.5 L547.55 854.46 L548.07 854.16 L548.59 854.77 L549.11 855.96 L549.64 856.67 L550.16 857.65 L550.68 858.06 L551.2 859.44 L551.72 859.95 L552.25 859.53 L552.77 859.41 L553.29 859.93 L553.81 859.11 L554.33 858.1 L554.85 857.39 L555.38 857.46 L555.9 857.86 L556.42 860.32 L556.94 862.05 L557.46 864.46 L557.99 865.12 L558.51 863.05 L559.03 860.73 L559.55 858.93 L560.07 856.73 L560.59 856.32 L561.12 856.58 L561.64 855.54 L562.16 856.41 L562.68 856.36 L563.2 857.28 L563.73 858.41 L564.25 857.38 L564.77 856.71 L565.29 857.63 L565.81 855.87 L566.33 855.63 L566.86 855.69 L567.38 856.09 L567.9 856.23 L568.42 856.75 L568.94 856.81 L569.46 856.23 L569.99 856.83 L570.51 858.45 L571.03 860.42 L571.55 862.86 L572.07 863.65 L572.6 861.45 L573.12 859.58 L573.64 857.5 L574.16 856.07 L574.68 856.75 L575.2 855.39 L575.73 854.67 L576.25 854.56 L576.77 855.29 L577.29 854.83 L577.81 854.36 L578.34 855.49 L578.86 856.59 L579.38 856.67 L579.9 856.37 L580.42 854.08 L580.94 851.29 L581.47 848.36 L581.99 845.13 L582.51 844.14 L583.03 842.99 L583.55 840.68 L584.08 842.28 L584.6 842.52 L585.12 842.13 L585.64 843.02 L586.16 840.98 L586.68 838.38 L587.21 836.42 L587.73 834.63 L588.25 833.83 L588.77 832.69 L589.29 831.41 L589.82 830.47 L590.34 829.48 L590.86 828.41 L591.38 827.84 L591.9 826.79 L592.42 826.14 L592.95 824.95 L593.47 823.96 L593.99 822.89 L594.51 820.74 L595.03 819.24 L595.56 816.4 L596.08 814.74 L596.6 812.99 L597.12 810.71 L597.64 809.68 L598.16 808.73 L598.69 807.18 L599.21 807.47 L599.73 807.29 L600.25 805.12 L600.77 804.28 L601.3 802.15 L601.82 799.72 L602.34 798.83 L602.86 797.16 L603.38 795.23 L603.9 793.33 L604.43 792.95 L604.95 791.54 L605.47 790.83 L605.99 789.54 L606.51 787.65 L607.04 786.01 L607.56 785.43 L608.08 784.21 L608.6 782.44 L609.12 780.42 L609.64 778.53 L610.17 777.07 L610.69 776.34 L611.21 774.45 L611.73 772.4 L612.25 770.78 L612.77 770.21 L613.3 768.88 L613.82 768.15 L614.34 767.14 L614.86 766 L615.38 764.27 L615.91 762.48 L616.43 760.79 L616.95 759.66 L617.47 757.39 L617.99 754.69 L618.51 754.03 L619.04 752.11 L619.56 751.75 L620.08 749.05 L620.6 747.66 L621.12 746.4 L621.65 745.6 L622.17 744.04 L622.69 742.29 L623.21 740.74 L623.73 740.23 L624.25 738.85 L624.78 737.4 L625.3 737.14 L625.82 735.54 L626.34 734.77 L626.86 733.28 L627.39 732.6 L627.91 731.63 L628.43 730.99 L628.95 730.78 L629.47 730.25 L629.99 729.31 L630.52 727.95 L631.04 726 L631.56 724.86 L632.08 724.29 L632.6 723.19 L633.13 722.06 L633.65 721.61 L634.17 720.47 L634.69 719.83 L635.21 719.87 L635.73 718.95 L636.26 718.86 L636.78 717.9 L637.3 717.2 L637.82 716.61 L638.34 714.58 L638.87 714.4 L639.39 713.37 L639.91 712.86 L640.43 711.93 L640.95 709.86 L641.47 707.55 L642 707.7 L642.52 708.63 L643.04 710.4 L643.56 712.28 L644.08 712.75 L644.61 710.8 L645.13 708.83 L645.65 707.28 L646.17 705.4 L646.69 705.31 L647.21 704.17 L647.74 702.82 L648.26 703.16 L648.78 703.43 L649.3 704.16 L649.82 705.49 L650.35 704 L650.87 702.92 L651.39 703.15 L651.91 702.68 L652.43 701.6 L652.95 701.09 L653.48 700.53 L654 701.16 L654.52 701.08 L655.04 701.78 L655.56 702.66 L656.08 703.94 L656.61 704.05 L657.13 704.88 L657.65 705.32 L658.17 704.6 L658.69 703.43 L659.22 702.66 L659.74 702.05 L660.26 701.85 L660.78 702.38 L661.3 703.08 L661.82 704.08 L662.35 704.67 L662.87 704.08 L663.39 704.89 L663.91 704.15 L664.43 702.66 L664.96 699.85 L665.48 697.41 L666 696.22 L666.52 696.79 L667.04 696.67 L667.56 697.4 L668.09 698.05 L668.61 698.86 L669.13 699.78 L669.65 700.97 L670.17 699.42 L670.7 698.01 L671.22 696.5 L671.74 693.98 L672.26 695.59 L672.78 696.34 L673.3 697.33 L673.83 698.51 L674.35 699.94 L674.87 701.27 L675.39 702.53 L675.91 702.86 L676.44 703.3 L676.96 703.21 L677.48 702.7 L678 702.56 L678.52 702.68 L679.04 702.32 L679.57 702.13 L680.09 700.87 L680.61 699.69 L681.13 698.73 L681.65 696.45 L682.18 696.71 L682.7 700.75 L683.22 702.78 L683.74 704.92 L684.26 703.59 L684.78 703.58 L685.31 703.09 L685.83 702.12 L686.35 701.63 L686.87 702.48 L687.39 702.09 L687.92 701.75 L688.44 701.77 L688.96 701.72 L689.48 701.51 L690 701.02 L690.52 698.35 L691.05 698.39 L691.57 696.34 L692.09 696.19 L692.61 695.79 L693.13 696.27 L693.65 696.37 L694.18 695.82 L694.7 696.71 L695.22 697.2 L695.74 696.59 L696.26 697.69 L696.79 700.23 L697.31 702.3 L697.83 704.61 L698.35 702.83 L698.87 701.76 L699.39 699.63 L699.92 697.65 L700.44 697.94 L700.96 696.69 L701.48 697.44 L702 697.66 L702.53 697.92 L703.05 698.09 L703.57 697.96 L704.09 698.46 L704.61 698.15 L705.13 698.83 L705.66 699.11 L706.18 699.14 L706.7 699.16 L707.22 698.79 L707.74 698.85 L708.27 698.61 L708.79 698.95 L709.31 698.42 L709.83 698.37 L710.35 698.59 L710.87 697.07 L711.4 695.95 L711.92 695.24 L712.44 693.2 L712.96 692.69 L713.48 691.82 L714.01 691.96 L714.53 694.53 L715.05 696.85 L715.57 699.38 L716.09 699.74 L716.61 700.26 L717.14 700.1 L717.66 701.08 L718.18 701.39 L718.7 701.36 L719.22 702.57 L719.75 702.91 L720.27 703.18 L720.79 702.04 L721.31 700.26 L721.83 700.11 L722.35 700.77 L722.88 700.49 L723.4 699.81 L723.92 700.34 L724.44 701.29 L724.96 702.63 L725.49 703.39 L726.01 703.3 L726.53 701.69 L727.05 701.11 L727.57 700.34 L728.09 700.28 L728.62 701.24 L729.14 701.34 L729.66 702.82 L730.18 703.38 L730.7 704.08 L731.23 704.47 L731.75 704.9 L732.27 706.47 L732.79 708.28 L733.31 709.36 L733.83 711.12 L734.36 712.56 L734.88 714.94 L735.4 714.26 L735.92 714.79 L736.44 716.11 L736.96 715.98 L737.49 716.7 L738.01 716.88 L738.53 717.55 L739.05 719.47 L739.57 719.92 L740.1 720.33 L740.62 721.71 L741.14 722.09 L741.66 723.3 L742.18 725.21 L742.7 725.58 L743.23 726.72 L743.75 727.88 L744.27 728.66 L744.79 729.33 L745.31 730.82 L745.84 731.23 L746.36 732.38 L746.88 733.39 L747.4 733.88 L747.92 735.33 L748.44 735.84 L748.97 736.56 L749.49 737.11 L750.01 738.29 L750.53 738.3 L751.05 739.81 L751.58 741.25 L752.1 742.29 L752.62 743.84 L753.14 744.87 L753.66 746.06 L754.18 746.92 L754.71 748.75 L755.23 750.94 L755.75 752.72 L756.27 753.94 L756.79 755.36 L757.32 756.59 L757.84 757.51 L758.36 759.95 L758.88 760.67 L759.4 762.4 L759.92 763.84 L760.45 765.36 L760.97 766.12 L761.49 767.11 L762.01 768.72 L762.53 769.56 L763.06 769.27 L763.58 769.63 L764.1 771.63 L764.62 773.57 L765.14 775.39 L765.66 777.41 L766.19 778.55 L766.71 781.5 L767.23 782.79 L767.75 784.47 L768.27 785.01 L768.8 784.77 L769.32 786.26 L769.84 787.02 L770.36 789.03 L770.88 790.55 L771.4 792.48 L771.93 793.43 L772.45 794.51 L772.97 795.71 L773.49 796.47 L774.01 797.53 L774.53 798.96 L775.06 800.62 L775.58 800.92 L776.1 802.58 L776.62 803.63 L777.14 805.48 L777.67 807.61 L778.19 809.11 L778.71 809.61 L779.23 811.21 L779.75 812.3 L780.27 814.34 L780.8 815.98 L781.32 817.5 L781.84 818.78 L782.36 820.3 L782.88 821.27 L783.41 822.55 L783.93 823.55 L784.45 825.33 L784.97 827.02 L785.49 829.09 L786.01 830.48 L786.54 830.52 L787.06 831.4 L787.58 832.21 L788.1 833.95 L788.62 835.78 L789.15 837.94 L789.67 839.81 L790.19 841.41 L790.71 841.3 L791.23 842.53 L791.75 842.36 L792.28 846.89 L792.8 846.33 L793.32 844.26 L793.84 844.01 L794.36 844.09 L794.89 844.18 L795.41 845.04 L795.93 845.52 L796.45 847.94 L796.97 848.84 L797.49 849.71 L798.02 851.24 L798.54 852.58 L799.06 853.85 L799.58 854.74 L800.1 854.18 L800.63 854.25 L801.15 854.59 L801.67 854.38 L802.19 855.24 L802.71 855.14 L803.23 855.38 L803.76 855.47 L804.28 853.86 L804.8 851.18 L805.32 850.72 L805.84 848.12 L806.37 848.82 L806.89 849.25 L807.41 850.9 L807.93 851.84 L808.45 855.07 L808.97 858.23 L809.5 860.64 L810.02 861.25 L810.54 861.03 L811.06 859.63 L811.58 858.62 L812.11 857.35 L812.63 855.52 L813.15 854.28 L813.67 852 L814.19 851.61 L814.71 853.57 L815.24 853.69 L815.76 854.38 L816.28 854.33 L816.8 853.54 L817.32 852.61 L817.84 852.51 L818.37 852.69 L818.89 853.76 L819.41 853.9 L819.93 854.71 L820.45 857.29 L820.98 858.4 L821.5 860.2 L822.02 861.89 L822.54 861.13 L823.06 859.41 L823.58 857.59 L824.11 858.53 L824.63 859.7 L825.15 861.18 L825.67 861.15 L826.19 861.24 L826.72 860.05 L827.24 859.04 L827.76 858.93 L828.28 857.69 L828.8 855.6 L829.32 853.95 L829.85 853.3 L830.37 853.99 L830.89 854.39 L831.41 855.39 L831.93 856.54 L832.46 858.63 L832.98 861.58 L833.5 864.81 L834.02 865.56 L834.54 861.86 L835.06 858.91 L835.59 856.09 L836.11 854.28 L836.63 855.14 L837.15 854.9 L837.67 855.05 L838.2 855.04 L838.72 857.41 L839.24 860.92 L839.76 861.94 L840.28 860.6 L840.8 860.32 L841.33 860.13 L841.85 858.93 L842.37 858.02 L842.89 858.41 L843.41 858.39 L843.94 858.62 L844.46 860.07 L844.98 861.7 L845.5 863.34 L846.02 863.07 L846.54 859.88 L847.07 856.19 L847.59 852.1 L848.11 852.86 L848.63 854.21 L849.15 857.89 L849.68 858.8 L850.2 857.6 L850.72 855.98 L851.24 855.59 L851.76 854.44 L852.28 854.26 L852.81 853.83" fill="none" stroke="#0000ff" stroke-width="2.3" stroke-linejoin="round" stroke-linecap="butt" />
</g>
<rect x="529.5" y="661.5" width="322.5" height="226" fill="none" stroke="#2b2b2b" stroke-width="1" />
<line x1="594" y1="887.5" x2="594" y2="882.5" stroke="#2b2b2b" stroke-width="1" />
<line x1="658.5" y1="887.5" x2="658.5" y2="882.5" stroke="#2b2b2b" stroke-width="1" />
<line x1="723" y1="887.5" x2="723" y2="882.5" stroke="#2b2b2b" stroke-width="1" />
<line x1="787.5" y1="887.5" x2="787.5" y2="882.5" stroke="#2b2b2b" stroke-width="1" />
<line x1="561.75" y1="887.5" x2="561.75" y2="885" stroke="#2b2b2b" stroke-width="1" />
<line x1="626.25" y1="887.5" x2="626.25" y2="885" stroke="#2b2b2b" stroke-width="1" />
<line x1="690.75" y1="887.5" x2="690.75" y2="885" stroke="#2b2b2b" stroke-width="1" />
<line x1="755.25" y1="887.5" x2="755.25" y2="885" stroke="#2b2b2b" stroke-width="1" />
<line x1="819.75" y1="887.5" x2="819.75" y2="885" stroke="#2b2b2b" stroke-width="1" />
<text font-size="18" text-anchor="middle" fill="#000" transform="translate(529.5 906) scale(0.965 1.04)" ><tspan>0</tspan></text>
<text font-size="18" text-anchor="middle" fill="#000" transform="translate(594 906) scale(0.965 1.04)" ><tspan>2</tspan></text>
<text font-size="18" text-anchor="middle" fill="#000" transform="translate(658.5 906) scale(0.965 1.04)" ><tspan>4</tspan></text>
<text font-size="18" text-anchor="middle" fill="#000" transform="translate(723 906) scale(0.965 1.04)" ><tspan>6</tspan></text>
<text font-size="18" text-anchor="middle" fill="#000" transform="translate(787.5 906) scale(0.965 1.04)" ><tspan>8</tspan></text>
<text font-size="18" text-anchor="middle" fill="#000" transform="translate(852 906) scale(0.965 1.04)" ><tspan>10</tspan></text>
<text font-size="18.8" text-anchor="start" fill="#ff1a1a" transform="translate(589.3 853.8) scale(1 1.04)" ><tspan>1.9 ms</tspan></text>
<text font-size="18.8" text-anchor="start" fill="#ff1a1a" transform="translate(734.6 853.8) scale(1 1.04)" ><tspan>2.1 ms</tspan></text>
<text font-size="21" text-anchor="middle" fill="#000" transform="translate(515.3 786.2) rotate(-90) scale(1 1.04)" ><tspan>Intensity (a.u.)</tspan></text>
<text font-size="21" text-anchor="middle" fill="#000" transform="translate(691 932.5) scale(1 1.04)" ><tspan>Time (ms)</tspan></text>
</g>
<g id="pi">
<text font-size="21" text-anchor="start" fill="#000" transform="translate(887 669.7) scale(1 1.04)" ><tspan>i</tspan></text>
<line x1="950" y1="664" x2="1189.5" y2="664" stroke="#2b2b2b" stroke-width="1" />
<line x1="1194.9" y1="664" x2="1272.5" y2="664" stroke="#2b2b2b" stroke-width="1" />
<line x1="950" y1="889.5" x2="1189.5" y2="889.5" stroke="#2b2b2b" stroke-width="1" />
<line x1="1194.9" y1="889.5" x2="1272.5" y2="889.5" stroke="#2b2b2b" stroke-width="1" />
<line x1="950" y1="663.4" x2="950" y2="706.9" stroke="#2b2b2b" stroke-width="1" />
<line x1="950" y1="710.7" x2="950" y2="890.1" stroke="#2b2b2b" stroke-width="1" />
<line x1="1272.5" y1="663.4" x2="1272.5" y2="706.9" stroke="#2b2b2b" stroke-width="1" />
<line x1="1272.5" y1="710.7" x2="1272.5" y2="890.1" stroke="#2b2b2b" stroke-width="1" />
<line x1="1186.2" y1="668" x2="1192.8" y2="660" stroke="#222" stroke-width="1" />
<line x1="1191.6" y1="668" x2="1198.2" y2="660" stroke="#222" stroke-width="1" />
<line x1="1186.2" y1="893.5" x2="1192.8" y2="885.5" stroke="#222" stroke-width="1" />
<line x1="1191.6" y1="893.5" x2="1198.2" y2="885.5" stroke="#222" stroke-width="1" />
<line x1="945.5" y1="709.1" x2="954.5" y2="704.7" stroke="#222" stroke-width="1" />
<line x1="945.5" y1="712.9" x2="954.5" y2="708.5" stroke="#222" stroke-width="1" />
<line x1="1268" y1="709.1" x2="1277" y2="704.7" stroke="#222" stroke-width="1" />
<line x1="1268" y1="712.9" x2="1277" y2="708.5" stroke="#222" stroke-width="1" />
<line x1="979.2" y1="889.5" x2="979.2" y2="884.5" stroke="#2b2b2b" stroke-width="1" />
<text font-size="18" text-anchor="middle" fill="#000" transform="translate(979.2 908) scale(0.965 1.04)" ><tspan>250</tspan></text>
<line x1="1051.45" y1="889.5" x2="1051.45" y2="884.5" stroke="#2b2b2b" stroke-width="1" />
<text font-size="18" text-anchor="middle" fill="#000" transform="translate(1051.45 908) scale(0.965 1.04)" ><tspan>300</tspan></text>
<line x1="1123.7" y1="889.5" x2="1123.7" y2="884.5" stroke="#2b2b2b" stroke-width="1" />
<text font-size="18" text-anchor="middle" fill="#000" transform="translate(1123.7 908) scale(0.965 1.04)" ><tspan>350</tspan></text>
<line x1="1015.33" y1="889.5" x2="1015.33" y2="887" stroke="#2b2b2b" stroke-width="1" />
<line x1="1087.58" y1="889.5" x2="1087.58" y2="887" stroke="#2b2b2b" stroke-width="1" />
<line x1="1159.83" y1="889.5" x2="1159.83" y2="887" stroke="#2b2b2b" stroke-width="1" />
<line x1="1216.5" y1="889.5" x2="1216.5" y2="884.5" stroke="#2b2b2b" stroke-width="1" />
<line x1="1262" y1="889.5" x2="1262" y2="884.5" stroke="#2b2b2b" stroke-width="1" />
<line x1="1239.8" y1="889.5" x2="1239.8" y2="887" stroke="#2b2b2b" stroke-width="1" />
<text font-size="18" text-anchor="middle" fill="#000" transform="translate(1216.5 908) scale(0.965 1.04)" ><tspan>600</tspan></text>
<text font-size="18" text-anchor="middle" fill="#000" transform="translate(1262 908) scale(0.965 1.04)" ><tspan>800</tspan></text>
<line x1="950" y1="883.3" x2="955" y2="883.3" stroke="#2b2b2b" stroke-width="1" />
<text font-size="18" text-anchor="end" fill="#000" transform="translate(944.3 888.2) scale(0.965 1.04)" ><tspan>0.0</tspan></text>
<line x1="950" y1="837.2" x2="955" y2="837.2" stroke="#2b2b2b" stroke-width="1" />
<text font-size="18" text-anchor="end" fill="#000" transform="translate(944.3 842.1) scale(0.965 1.04)" ><tspan>4.0E3</tspan></text>
<line x1="950" y1="791.1" x2="955" y2="791.1" stroke="#2b2b2b" stroke-width="1" />
<text font-size="18" text-anchor="end" fill="#000" transform="translate(944.3 796) scale(0.965 1.04)" ><tspan>8.0E3</tspan></text>
<line x1="950" y1="745" x2="955" y2="745" stroke="#2b2b2b" stroke-width="1" />
<text font-size="18" text-anchor="end" fill="#000" transform="translate(944.3 749.9) scale(0.965 1.04)" ><tspan>1.2E4</tspan></text>
<line x1="950" y1="860.25" x2="952.5" y2="860.25" stroke="#2b2b2b" stroke-width="1" />
<line x1="950" y1="814.15" x2="952.5" y2="814.15" stroke="#2b2b2b" stroke-width="1" />
<line x1="950" y1="768.05" x2="952.5" y2="768.05" stroke="#2b2b2b" stroke-width="1" />
<line x1="950" y1="721.95" x2="952.5" y2="721.95" stroke="#2b2b2b" stroke-width="1" />
<line x1="950" y1="680.7" x2="955" y2="680.7" stroke="#2b2b2b" stroke-width="1" />
<line x1="950" y1="667.3" x2="952.5" y2="667.3" stroke="#2b2b2b" stroke-width="1" />
<line x1="950" y1="693.8" x2="952.5" y2="693.8" stroke="#2b2b2b" stroke-width="1" />
<text font-size="18" text-anchor="end" fill="#000" transform="translate(944.3 685.6) scale(0.965 1.04)" ><tspan>8.0E5</tspan></text>
<polygon points="1200,664.2 1201.41,668.55 1205.99,668.55 1202.29,671.24 1203.7,675.6 1200,672.91 1196.3,675.6 1197.71,671.24 1194.01,668.55 1198.59,668.55" fill="#ff0000"/>
<text font-size="18.8" text-anchor="start" fill="#ff0000" transform="translate(1116.2 681.3) scale(1 1.04)" ><tspan>CdPSe</tspan><tspan font-size="13" dy="4.3">3</tspan></text>
<polygon points="1225.6,667.1 1227.01,671.45 1231.59,671.45 1227.89,674.14 1229.3,678.5 1225.6,675.81 1221.9,678.5 1223.31,674.14 1219.61,671.45 1224.19,671.45" fill="#a828d8"/>
<text font-size="18.8" text-anchor="start" fill="#a828d8" transform="translate(1208.5 694.7) scale(1 1.04)" ><tspan>MoS</tspan><tspan font-size="13" dy="4.3">2</tspan></text>
<polygon points="1200,687.9 1201.41,692.25 1205.99,692.25 1202.29,694.94 1203.7,699.3 1200,696.61 1196.3,699.3 1197.71,694.94 1194.01,692.25 1198.59,692.25" fill="#0000ff"/>
<text font-size="18.8" text-anchor="start" fill="#4040ff" transform="translate(1136.1 709.3) scale(1 1.04)" ><tspan>SnPS</tspan><tspan font-size="13" dy="4.3">3</tspan></text>
<polygon points="1263.6,695.4 1265.01,699.75 1269.59,699.75 1265.89,702.44 1267.3,706.8 1263.6,704.11 1259.9,706.8 1261.31,702.44 1257.61,699.75 1262.19,699.75" fill="#d0509c"/>
<text font-size="18.8" text-anchor="start" fill="#d0509c" transform="translate(1217.2 724.5) scale(1 1.04)" ><tspan>PtSe</tspan><tspan font-size="13" dy="4.3">2</tspan></text>
<polygon points="971.9,761.9 973.31,766.25 977.89,766.25 974.19,768.94 975.6,773.3 971.9,770.61 968.2,773.3 969.61,768.94 965.91,766.25 970.49,766.25" fill="#14c8c8"/>
<text font-size="18.8" text-anchor="start" fill="#14c8c8" transform="translate(987.6 772.7) scale(1 1.04)" ><tspan>BiOBr</tspan></text>
<polygon points="1225.4,761.9 1226.81,766.25 1231.39,766.25 1227.69,768.94 1229.1,773.3 1225.4,770.61 1221.7,773.3 1223.11,768.94 1219.41,766.25 1223.99,766.25" fill="#4090e0"/>
<text font-size="18.8" text-anchor="start" fill="#4a8ce0" transform="translate(1161.4 769.3) scale(1 1.04)" ><tspan>WSe</tspan><tspan font-size="13" dy="4.3">2</tspan></text>
<polygon points="985,875 986.41,879.35 990.99,879.35 987.29,882.04 988.7,886.4 985,883.71 981.3,886.4 982.71,882.04 979.01,879.35 983.59,879.35" fill="#b070c8"/>
<text font-size="18.8" text-anchor="start" fill="#ac62b4" transform="translate(954.9 868.2) scale(1 1.04)" ><tspan>NiPS</tspan><tspan font-size="13" dy="4.3">3</tspan></text>
<polygon points="1029.6,862.8 1031.01,867.15 1035.59,867.15 1031.89,869.84 1033.3,874.2 1029.6,871.51 1025.9,874.2 1027.31,869.84 1023.61,867.15 1028.19,867.15" fill="#d86878"/>
<text font-size="18.8" text-anchor="start" fill="#d87880" transform="translate(988.9 844) scale(1 1.04)" ><tspan>GaPS</tspan><tspan font-size="13" dy="4.3">4</tspan></text>
<polygon points="1051.6,865.9 1053.01,870.25 1057.59,870.25 1053.89,872.94 1055.3,877.3 1051.6,874.61 1047.9,877.3 1049.31,872.94 1045.61,870.25 1050.19,870.25" fill="#f0a850"/>
<text font-size="18.8" text-anchor="start" fill="#f0a850" transform="translate(1050.3 859.4) scale(1 1.04)" ><tspan>hBN</tspan></text>
<polygon points="1138.6,852.8 1140.01,857.15 1144.59,857.15 1140.89,859.84 1142.3,864.2 1138.6,861.51 1134.9,864.2 1136.31,859.84 1132.61,857.15 1137.19,857.15" fill="#60b060"/>
<text font-size="18.8" text-anchor="start" fill="#68b868" transform="translate(1088.2 844) scale(1 1.04)" ><tspan>Ga</tspan><tspan font-size="13" dy="4.3">2</tspan><tspan dy="-4.3">In</tspan><tspan font-size="13" dy="4.3">4</tspan><tspan dy="-4.3">S</tspan><tspan font-size="13" dy="4.3">9</tspan></text>
<polygon points="1146,865.9 1147.41,870.25 1151.99,870.25 1148.29,872.94 1149.7,877.3 1146,874.61 1142.3,877.3 1143.71,872.94 1140.01,870.25 1144.59,870.25" fill="#c07898"/>
<text font-size="18.8" text-anchor="start" fill="#c888a4" transform="translate(1080.9 882.4) scale(1 1.04)" ><tspan>MnPS</tspan><tspan font-size="13" dy="4.3">3</tspan></text>
<polygon points="1160.3,865.9 1161.71,870.25 1166.29,870.25 1162.59,872.94 1164,877.3 1160.3,874.61 1156.6,877.3 1158.01,872.94 1154.31,870.25 1158.89,870.25" fill="#f878d8"/>
<text font-size="18.8" text-anchor="start" fill="#f878d8" transform="translate(1165.3 861.5) scale(1 1.04)" ><tspan>MnPSe</tspan><tspan font-size="13" dy="4.3">3</tspan></text>
<polygon points="1182,876.3 1183.41,880.65 1187.99,880.65 1184.29,883.34 1185.7,887.7 1182,885.01 1178.3,887.7 1179.71,883.34 1176.01,880.65 1180.59,880.65" fill="#98c028"/>
<text font-size="18.8" text-anchor="start" fill="#98c028" transform="translate(1197.2 882.2) scale(1 1.04)" ><tspan>SnS</tspan><tspan font-size="13" dy="4.3">2</tspan></text>
<text font-size="21" text-anchor="middle" fill="#000" transform="translate(883.5 790.8) rotate(-90) scale(1 1.04)" ><tspan>I</tspan><tspan font-size="11.7" dy="7.4">ph</tspan><tspan dy="-7.4">/I</tspan><tspan font-size="11.7" dy="7.4">dark</tspan></text>
<text font-size="21" text-anchor="middle" fill="#000" transform="translate(1110.5 934.2) scale(1 1.04)" ><tspan>Wavelength (nm)</tspan></text>
</g>
</g>
</svg>
</body></html>
